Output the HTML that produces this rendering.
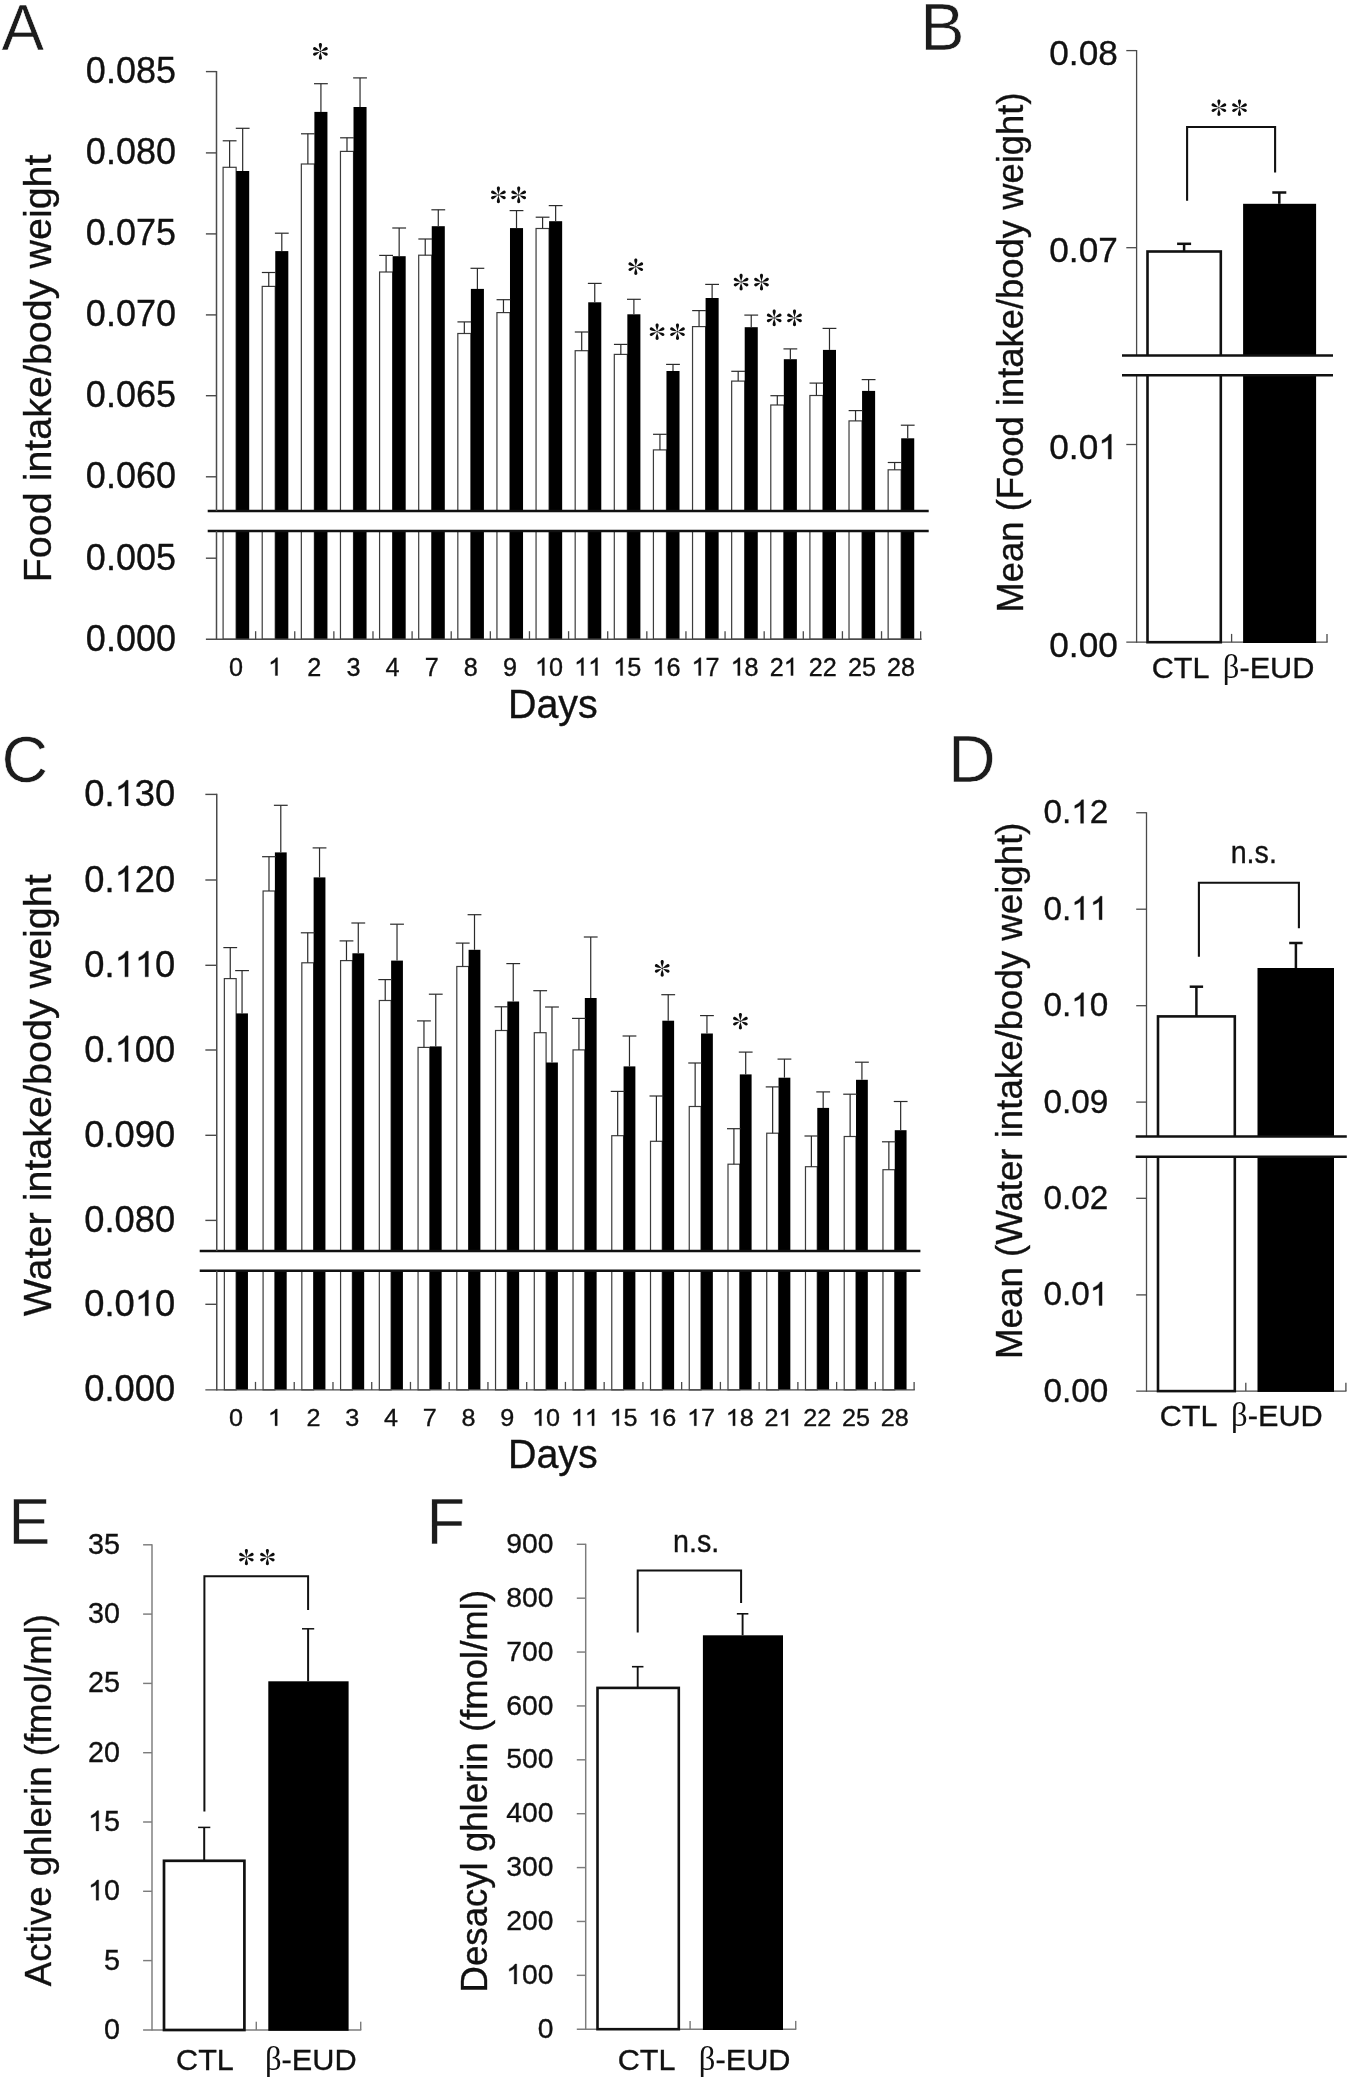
<!DOCTYPE html>
<html><head><meta charset="utf-8"><title>Figure</title>
<style>html,body{margin:0;padding:0;background:#fff}svg{display:block;will-change:transform;filter:blur(0.3px)}text{font-kerning:none}</style>
</head><body>
<svg width="1350" height="2082" viewBox="0 0 1350 2082">
<rect x="0.00" y="0.00" width="1350.00" height="2082.00" fill="#fff"/>
<rect x="223.10" y="167.30" width="13.05" height="471.90" fill="#fff" stroke="#3c3c3c" stroke-width="1.2"/>
<rect x="236.15" y="171.00" width="13.05" height="468.20" fill="#000"/>
<line x1="229.62" y1="140.80" x2="229.62" y2="167.30" stroke="#2b2b2b" stroke-width="1.2" stroke-linecap="butt"/>
<line x1="222.72" y1="140.80" x2="236.53" y2="140.80" stroke="#2b2b2b" stroke-width="1.2" stroke-linecap="butt"/>
<line x1="242.68" y1="128.30" x2="242.68" y2="171.00" stroke="#2b2b2b" stroke-width="1.2" stroke-linecap="butt"/>
<line x1="235.78" y1="128.30" x2="249.58" y2="128.30" stroke="#2b2b2b" stroke-width="1.2" stroke-linecap="butt"/>
<rect x="262.22" y="286.40" width="13.05" height="352.80" fill="#fff" stroke="#3c3c3c" stroke-width="1.2"/>
<rect x="275.27" y="251.10" width="13.05" height="388.10" fill="#000"/>
<line x1="268.75" y1="272.50" x2="268.75" y2="286.40" stroke="#2b2b2b" stroke-width="1.2" stroke-linecap="butt"/>
<line x1="261.85" y1="272.50" x2="275.64" y2="272.50" stroke="#2b2b2b" stroke-width="1.2" stroke-linecap="butt"/>
<line x1="281.80" y1="233.20" x2="281.80" y2="251.10" stroke="#2b2b2b" stroke-width="1.2" stroke-linecap="butt"/>
<line x1="274.90" y1="233.20" x2="288.69" y2="233.20" stroke="#2b2b2b" stroke-width="1.2" stroke-linecap="butt"/>
<rect x="301.34" y="164.00" width="13.05" height="475.20" fill="#fff" stroke="#3c3c3c" stroke-width="1.2"/>
<rect x="314.39" y="111.90" width="13.05" height="527.30" fill="#000"/>
<line x1="307.87" y1="133.80" x2="307.87" y2="164.00" stroke="#2b2b2b" stroke-width="1.2" stroke-linecap="butt"/>
<line x1="300.97" y1="133.80" x2="314.76" y2="133.80" stroke="#2b2b2b" stroke-width="1.2" stroke-linecap="butt"/>
<line x1="320.92" y1="83.70" x2="320.92" y2="111.90" stroke="#2b2b2b" stroke-width="1.2" stroke-linecap="butt"/>
<line x1="314.02" y1="83.70" x2="327.81" y2="83.70" stroke="#2b2b2b" stroke-width="1.2" stroke-linecap="butt"/>
<rect x="340.46" y="151.40" width="13.05" height="487.80" fill="#fff" stroke="#3c3c3c" stroke-width="1.2"/>
<rect x="353.51" y="107.00" width="13.05" height="532.20" fill="#000"/>
<line x1="346.99" y1="137.80" x2="346.99" y2="151.40" stroke="#2b2b2b" stroke-width="1.2" stroke-linecap="butt"/>
<line x1="340.09" y1="137.80" x2="353.88" y2="137.80" stroke="#2b2b2b" stroke-width="1.2" stroke-linecap="butt"/>
<line x1="360.04" y1="77.90" x2="360.04" y2="107.00" stroke="#2b2b2b" stroke-width="1.2" stroke-linecap="butt"/>
<line x1="353.14" y1="77.90" x2="366.94" y2="77.90" stroke="#2b2b2b" stroke-width="1.2" stroke-linecap="butt"/>
<rect x="379.58" y="272.00" width="13.05" height="367.20" fill="#fff" stroke="#3c3c3c" stroke-width="1.2"/>
<rect x="392.63" y="256.20" width="13.05" height="383.00" fill="#000"/>
<line x1="386.11" y1="255.40" x2="386.11" y2="272.00" stroke="#2b2b2b" stroke-width="1.2" stroke-linecap="butt"/>
<line x1="379.21" y1="255.40" x2="393.00" y2="255.40" stroke="#2b2b2b" stroke-width="1.2" stroke-linecap="butt"/>
<line x1="399.16" y1="228.00" x2="399.16" y2="256.20" stroke="#2b2b2b" stroke-width="1.2" stroke-linecap="butt"/>
<line x1="392.26" y1="228.00" x2="406.06" y2="228.00" stroke="#2b2b2b" stroke-width="1.2" stroke-linecap="butt"/>
<rect x="418.70" y="255.20" width="13.05" height="384.00" fill="#fff" stroke="#3c3c3c" stroke-width="1.2"/>
<rect x="431.75" y="226.20" width="13.05" height="413.00" fill="#000"/>
<line x1="425.23" y1="239.00" x2="425.23" y2="255.20" stroke="#2b2b2b" stroke-width="1.2" stroke-linecap="butt"/>
<line x1="418.33" y1="239.00" x2="432.12" y2="239.00" stroke="#2b2b2b" stroke-width="1.2" stroke-linecap="butt"/>
<line x1="438.28" y1="209.80" x2="438.28" y2="226.20" stroke="#2b2b2b" stroke-width="1.2" stroke-linecap="butt"/>
<line x1="431.38" y1="209.80" x2="445.18" y2="209.80" stroke="#2b2b2b" stroke-width="1.2" stroke-linecap="butt"/>
<rect x="457.82" y="333.50" width="13.05" height="305.70" fill="#fff" stroke="#3c3c3c" stroke-width="1.2"/>
<rect x="470.87" y="288.90" width="13.05" height="350.30" fill="#000"/>
<line x1="464.34" y1="321.90" x2="464.34" y2="333.50" stroke="#2b2b2b" stroke-width="1.2" stroke-linecap="butt"/>
<line x1="457.44" y1="321.90" x2="471.24" y2="321.90" stroke="#2b2b2b" stroke-width="1.2" stroke-linecap="butt"/>
<line x1="477.39" y1="268.30" x2="477.39" y2="288.90" stroke="#2b2b2b" stroke-width="1.2" stroke-linecap="butt"/>
<line x1="470.50" y1="268.30" x2="484.29" y2="268.30" stroke="#2b2b2b" stroke-width="1.2" stroke-linecap="butt"/>
<rect x="496.94" y="312.60" width="13.05" height="326.60" fill="#fff" stroke="#3c3c3c" stroke-width="1.2"/>
<rect x="509.99" y="228.10" width="13.05" height="411.10" fill="#000"/>
<line x1="503.46" y1="299.70" x2="503.46" y2="312.60" stroke="#2b2b2b" stroke-width="1.2" stroke-linecap="butt"/>
<line x1="496.56" y1="299.70" x2="510.36" y2="299.70" stroke="#2b2b2b" stroke-width="1.2" stroke-linecap="butt"/>
<line x1="516.51" y1="210.60" x2="516.51" y2="228.10" stroke="#2b2b2b" stroke-width="1.2" stroke-linecap="butt"/>
<line x1="509.62" y1="210.60" x2="523.41" y2="210.60" stroke="#2b2b2b" stroke-width="1.2" stroke-linecap="butt"/>
<rect x="536.06" y="228.50" width="13.05" height="410.70" fill="#fff" stroke="#3c3c3c" stroke-width="1.2"/>
<rect x="549.11" y="221.20" width="13.05" height="418.00" fill="#000"/>
<line x1="542.59" y1="217.20" x2="542.59" y2="228.50" stroke="#2b2b2b" stroke-width="1.2" stroke-linecap="butt"/>
<line x1="535.69" y1="217.20" x2="549.49" y2="217.20" stroke="#2b2b2b" stroke-width="1.2" stroke-linecap="butt"/>
<line x1="555.64" y1="205.60" x2="555.64" y2="221.20" stroke="#2b2b2b" stroke-width="1.2" stroke-linecap="butt"/>
<line x1="548.74" y1="205.60" x2="562.54" y2="205.60" stroke="#2b2b2b" stroke-width="1.2" stroke-linecap="butt"/>
<rect x="575.18" y="350.70" width="13.05" height="288.50" fill="#fff" stroke="#3c3c3c" stroke-width="1.2"/>
<rect x="588.23" y="302.30" width="13.05" height="336.90" fill="#000"/>
<line x1="581.70" y1="332.00" x2="581.70" y2="350.70" stroke="#2b2b2b" stroke-width="1.2" stroke-linecap="butt"/>
<line x1="574.80" y1="332.00" x2="588.60" y2="332.00" stroke="#2b2b2b" stroke-width="1.2" stroke-linecap="butt"/>
<line x1="594.75" y1="283.40" x2="594.75" y2="302.30" stroke="#2b2b2b" stroke-width="1.2" stroke-linecap="butt"/>
<line x1="587.86" y1="283.40" x2="601.65" y2="283.40" stroke="#2b2b2b" stroke-width="1.2" stroke-linecap="butt"/>
<rect x="614.30" y="354.40" width="13.05" height="284.80" fill="#fff" stroke="#3c3c3c" stroke-width="1.2"/>
<rect x="627.35" y="314.30" width="13.05" height="324.90" fill="#000"/>
<line x1="620.83" y1="344.40" x2="620.83" y2="354.40" stroke="#2b2b2b" stroke-width="1.2" stroke-linecap="butt"/>
<line x1="613.93" y1="344.40" x2="627.73" y2="344.40" stroke="#2b2b2b" stroke-width="1.2" stroke-linecap="butt"/>
<line x1="633.88" y1="299.30" x2="633.88" y2="314.30" stroke="#2b2b2b" stroke-width="1.2" stroke-linecap="butt"/>
<line x1="626.98" y1="299.30" x2="640.78" y2="299.30" stroke="#2b2b2b" stroke-width="1.2" stroke-linecap="butt"/>
<rect x="653.42" y="449.90" width="13.05" height="189.30" fill="#fff" stroke="#3c3c3c" stroke-width="1.2"/>
<rect x="666.47" y="371.00" width="13.05" height="268.20" fill="#000"/>
<line x1="659.94" y1="434.30" x2="659.94" y2="449.90" stroke="#2b2b2b" stroke-width="1.2" stroke-linecap="butt"/>
<line x1="653.04" y1="434.30" x2="666.84" y2="434.30" stroke="#2b2b2b" stroke-width="1.2" stroke-linecap="butt"/>
<line x1="673.00" y1="364.40" x2="673.00" y2="371.00" stroke="#2b2b2b" stroke-width="1.2" stroke-linecap="butt"/>
<line x1="666.10" y1="364.40" x2="679.89" y2="364.40" stroke="#2b2b2b" stroke-width="1.2" stroke-linecap="butt"/>
<rect x="692.54" y="326.60" width="13.05" height="312.60" fill="#fff" stroke="#3c3c3c" stroke-width="1.2"/>
<rect x="705.59" y="298.00" width="13.05" height="341.20" fill="#000"/>
<line x1="699.06" y1="310.60" x2="699.06" y2="326.60" stroke="#2b2b2b" stroke-width="1.2" stroke-linecap="butt"/>
<line x1="692.16" y1="310.60" x2="705.96" y2="310.60" stroke="#2b2b2b" stroke-width="1.2" stroke-linecap="butt"/>
<line x1="712.12" y1="284.40" x2="712.12" y2="298.00" stroke="#2b2b2b" stroke-width="1.2" stroke-linecap="butt"/>
<line x1="705.22" y1="284.40" x2="719.01" y2="284.40" stroke="#2b2b2b" stroke-width="1.2" stroke-linecap="butt"/>
<rect x="731.66" y="381.10" width="13.05" height="258.10" fill="#fff" stroke="#3c3c3c" stroke-width="1.2"/>
<rect x="744.71" y="327.20" width="13.05" height="312.00" fill="#000"/>
<line x1="738.18" y1="371.30" x2="738.18" y2="381.10" stroke="#2b2b2b" stroke-width="1.2" stroke-linecap="butt"/>
<line x1="731.28" y1="371.30" x2="745.08" y2="371.30" stroke="#2b2b2b" stroke-width="1.2" stroke-linecap="butt"/>
<line x1="751.24" y1="315.10" x2="751.24" y2="327.20" stroke="#2b2b2b" stroke-width="1.2" stroke-linecap="butt"/>
<line x1="744.34" y1="315.10" x2="758.13" y2="315.10" stroke="#2b2b2b" stroke-width="1.2" stroke-linecap="butt"/>
<rect x="770.78" y="405.00" width="13.05" height="234.20" fill="#fff" stroke="#3c3c3c" stroke-width="1.2"/>
<rect x="783.83" y="359.20" width="13.05" height="280.00" fill="#000"/>
<line x1="777.30" y1="395.70" x2="777.30" y2="405.00" stroke="#2b2b2b" stroke-width="1.2" stroke-linecap="butt"/>
<line x1="770.40" y1="395.70" x2="784.20" y2="395.70" stroke="#2b2b2b" stroke-width="1.2" stroke-linecap="butt"/>
<line x1="790.36" y1="348.90" x2="790.36" y2="359.20" stroke="#2b2b2b" stroke-width="1.2" stroke-linecap="butt"/>
<line x1="783.46" y1="348.90" x2="797.25" y2="348.90" stroke="#2b2b2b" stroke-width="1.2" stroke-linecap="butt"/>
<rect x="809.90" y="395.50" width="13.05" height="243.70" fill="#fff" stroke="#3c3c3c" stroke-width="1.2"/>
<rect x="822.95" y="349.90" width="13.05" height="289.30" fill="#000"/>
<line x1="816.42" y1="383.10" x2="816.42" y2="395.50" stroke="#2b2b2b" stroke-width="1.2" stroke-linecap="butt"/>
<line x1="809.52" y1="383.10" x2="823.32" y2="383.10" stroke="#2b2b2b" stroke-width="1.2" stroke-linecap="butt"/>
<line x1="829.48" y1="328.40" x2="829.48" y2="349.90" stroke="#2b2b2b" stroke-width="1.2" stroke-linecap="butt"/>
<line x1="822.58" y1="328.40" x2="836.38" y2="328.40" stroke="#2b2b2b" stroke-width="1.2" stroke-linecap="butt"/>
<rect x="849.02" y="420.90" width="13.05" height="218.30" fill="#fff" stroke="#3c3c3c" stroke-width="1.2"/>
<rect x="862.07" y="390.90" width="13.05" height="248.30" fill="#000"/>
<line x1="855.54" y1="410.60" x2="855.54" y2="420.90" stroke="#2b2b2b" stroke-width="1.2" stroke-linecap="butt"/>
<line x1="848.64" y1="410.60" x2="862.44" y2="410.60" stroke="#2b2b2b" stroke-width="1.2" stroke-linecap="butt"/>
<line x1="868.60" y1="379.60" x2="868.60" y2="390.90" stroke="#2b2b2b" stroke-width="1.2" stroke-linecap="butt"/>
<line x1="861.70" y1="379.60" x2="875.50" y2="379.60" stroke="#2b2b2b" stroke-width="1.2" stroke-linecap="butt"/>
<rect x="888.14" y="469.80" width="13.05" height="169.40" fill="#fff" stroke="#3c3c3c" stroke-width="1.2"/>
<rect x="901.19" y="438.30" width="13.05" height="200.90" fill="#000"/>
<line x1="894.66" y1="462.50" x2="894.66" y2="469.80" stroke="#2b2b2b" stroke-width="1.2" stroke-linecap="butt"/>
<line x1="887.76" y1="462.50" x2="901.56" y2="462.50" stroke="#2b2b2b" stroke-width="1.2" stroke-linecap="butt"/>
<line x1="907.72" y1="425.20" x2="907.72" y2="438.30" stroke="#2b2b2b" stroke-width="1.2" stroke-linecap="butt"/>
<line x1="900.82" y1="425.20" x2="914.62" y2="425.20" stroke="#2b2b2b" stroke-width="1.2" stroke-linecap="butt"/>
<rect x="207.70" y="511.00" width="721.00" height="20.00" fill="#fff"/>
<line x1="207.70" y1="511.00" x2="928.70" y2="511.00" stroke="#111" stroke-width="2.5" stroke-linecap="butt"/>
<line x1="207.70" y1="531.00" x2="928.70" y2="531.00" stroke="#111" stroke-width="2.5" stroke-linecap="butt"/>
<line x1="216.50" y1="70.90" x2="216.50" y2="511.00" stroke="#4a4a4a" stroke-width="1.5" stroke-linecap="butt"/>
<line x1="216.50" y1="531.00" x2="216.50" y2="639.90" stroke="#4a4a4a" stroke-width="1.5" stroke-linecap="butt"/>
<line x1="205.90" y1="71.60" x2="216.50" y2="71.60" stroke="#4a4a4a" stroke-width="1.4" stroke-linecap="butt"/>
<line x1="205.90" y1="152.90" x2="216.50" y2="152.90" stroke="#4a4a4a" stroke-width="1.4" stroke-linecap="butt"/>
<line x1="205.90" y1="233.90" x2="216.50" y2="233.90" stroke="#4a4a4a" stroke-width="1.4" stroke-linecap="butt"/>
<line x1="205.90" y1="314.90" x2="216.50" y2="314.90" stroke="#4a4a4a" stroke-width="1.4" stroke-linecap="butt"/>
<line x1="205.90" y1="395.70" x2="216.50" y2="395.70" stroke="#4a4a4a" stroke-width="1.4" stroke-linecap="butt"/>
<line x1="205.90" y1="476.80" x2="216.50" y2="476.80" stroke="#4a4a4a" stroke-width="1.4" stroke-linecap="butt"/>
<line x1="205.90" y1="558.20" x2="216.50" y2="558.20" stroke="#4a4a4a" stroke-width="1.4" stroke-linecap="butt"/>
<line x1="205.90" y1="639.20" x2="921.60" y2="639.20" stroke="#4a4a4a" stroke-width="1.4" stroke-linecap="butt"/>
<line x1="255.62" y1="631.20" x2="255.62" y2="639.20" stroke="#4a4a4a" stroke-width="1.3" stroke-linecap="butt"/>
<line x1="294.74" y1="631.20" x2="294.74" y2="639.20" stroke="#4a4a4a" stroke-width="1.3" stroke-linecap="butt"/>
<line x1="333.86" y1="631.20" x2="333.86" y2="639.20" stroke="#4a4a4a" stroke-width="1.3" stroke-linecap="butt"/>
<line x1="372.98" y1="631.20" x2="372.98" y2="639.20" stroke="#4a4a4a" stroke-width="1.3" stroke-linecap="butt"/>
<line x1="412.10" y1="631.20" x2="412.10" y2="639.20" stroke="#4a4a4a" stroke-width="1.3" stroke-linecap="butt"/>
<line x1="451.22" y1="631.20" x2="451.22" y2="639.20" stroke="#4a4a4a" stroke-width="1.3" stroke-linecap="butt"/>
<line x1="490.34" y1="631.20" x2="490.34" y2="639.20" stroke="#4a4a4a" stroke-width="1.3" stroke-linecap="butt"/>
<line x1="529.46" y1="631.20" x2="529.46" y2="639.20" stroke="#4a4a4a" stroke-width="1.3" stroke-linecap="butt"/>
<line x1="568.58" y1="631.20" x2="568.58" y2="639.20" stroke="#4a4a4a" stroke-width="1.3" stroke-linecap="butt"/>
<line x1="607.70" y1="631.20" x2="607.70" y2="639.20" stroke="#4a4a4a" stroke-width="1.3" stroke-linecap="butt"/>
<line x1="646.82" y1="631.20" x2="646.82" y2="639.20" stroke="#4a4a4a" stroke-width="1.3" stroke-linecap="butt"/>
<line x1="685.94" y1="631.20" x2="685.94" y2="639.20" stroke="#4a4a4a" stroke-width="1.3" stroke-linecap="butt"/>
<line x1="725.06" y1="631.20" x2="725.06" y2="639.20" stroke="#4a4a4a" stroke-width="1.3" stroke-linecap="butt"/>
<line x1="764.18" y1="631.20" x2="764.18" y2="639.20" stroke="#4a4a4a" stroke-width="1.3" stroke-linecap="butt"/>
<line x1="803.30" y1="631.20" x2="803.30" y2="639.20" stroke="#4a4a4a" stroke-width="1.3" stroke-linecap="butt"/>
<line x1="842.42" y1="631.20" x2="842.42" y2="639.20" stroke="#4a4a4a" stroke-width="1.3" stroke-linecap="butt"/>
<line x1="881.54" y1="631.20" x2="881.54" y2="639.20" stroke="#4a4a4a" stroke-width="1.3" stroke-linecap="butt"/>
<line x1="920.66" y1="631.20" x2="920.66" y2="639.20" stroke="#4a4a4a" stroke-width="1.3" stroke-linecap="butt"/>
<text transform="translate(85.86,83.10) scale(1.0,1.0)" text-anchor="start" font-size="36.00" font-family="Liberation Sans, sans-serif" fill="#111" stroke="#111" stroke-width="0.35">0.085</text>
<text transform="translate(85.86,164.40) scale(1.0,1.0)" text-anchor="start" font-size="36.00" font-family="Liberation Sans, sans-serif" fill="#111" stroke="#111" stroke-width="0.35">0.080</text>
<text transform="translate(85.86,245.40) scale(1.0,1.0)" text-anchor="start" font-size="36.00" font-family="Liberation Sans, sans-serif" fill="#111" stroke="#111" stroke-width="0.35">0.075</text>
<text transform="translate(85.86,326.40) scale(1.0,1.0)" text-anchor="start" font-size="36.00" font-family="Liberation Sans, sans-serif" fill="#111" stroke="#111" stroke-width="0.35">0.070</text>
<text transform="translate(85.86,407.20) scale(1.0,1.0)" text-anchor="start" font-size="36.00" font-family="Liberation Sans, sans-serif" fill="#111" stroke="#111" stroke-width="0.35">0.065</text>
<text transform="translate(85.86,488.30) scale(1.0,1.0)" text-anchor="start" font-size="36.00" font-family="Liberation Sans, sans-serif" fill="#111" stroke="#111" stroke-width="0.35">0.060</text>
<text transform="translate(85.86,569.70) scale(1.0,1.0)" text-anchor="start" font-size="36.00" font-family="Liberation Sans, sans-serif" fill="#111" stroke="#111" stroke-width="0.35">0.005</text>
<text transform="translate(85.86,650.70) scale(1.0,1.0)" text-anchor="start" font-size="36.00" font-family="Liberation Sans, sans-serif" fill="#111" stroke="#111" stroke-width="0.35">0.000</text>
<text transform="translate(229.05,675.50) scale(1.0,1.0)" text-anchor="start" font-size="25.20" font-family="Liberation Sans, sans-serif" fill="#111" stroke="#111" stroke-width="0.35">0</text>
<path transform="translate(268.17,675.50) scale(25.200,25.200)" d="M0.372,0 H0.284 V-0.548 Q0.215,-0.485 0.109,-0.447 V-0.532 Q0.262,-0.600 0.316,-0.705 H0.372 Z" fill="#111" stroke="#111" stroke-width="0.0139"/>
<text transform="translate(307.29,675.50) scale(1.0,1.0)" text-anchor="start" font-size="25.20" font-family="Liberation Sans, sans-serif" fill="#111" stroke="#111" stroke-width="0.35">2</text>
<text transform="translate(346.41,675.50) scale(1.0,1.0)" text-anchor="start" font-size="25.20" font-family="Liberation Sans, sans-serif" fill="#111" stroke="#111" stroke-width="0.35">3</text>
<text transform="translate(385.53,675.50) scale(1.0,1.0)" text-anchor="start" font-size="25.20" font-family="Liberation Sans, sans-serif" fill="#111" stroke="#111" stroke-width="0.35">4</text>
<text transform="translate(424.65,675.50) scale(1.0,1.0)" text-anchor="start" font-size="25.20" font-family="Liberation Sans, sans-serif" fill="#111" stroke="#111" stroke-width="0.35">7</text>
<text transform="translate(463.77,675.50) scale(1.0,1.0)" text-anchor="start" font-size="25.20" font-family="Liberation Sans, sans-serif" fill="#111" stroke="#111" stroke-width="0.35">8</text>
<text transform="translate(502.89,675.50) scale(1.0,1.0)" text-anchor="start" font-size="25.20" font-family="Liberation Sans, sans-serif" fill="#111" stroke="#111" stroke-width="0.35">9</text>
<path transform="translate(535.00,675.50) scale(25.200,25.200)" d="M0.372,0 H0.284 V-0.548 Q0.215,-0.485 0.109,-0.447 V-0.532 Q0.262,-0.600 0.316,-0.705 H0.372 Z" fill="#111" stroke="#111" stroke-width="0.0139"/>
<text transform="translate(549.02,675.50) scale(1.0,1.0)" text-anchor="start" font-size="25.20" font-family="Liberation Sans, sans-serif" fill="#111" stroke="#111" stroke-width="0.35">0</text>
<path transform="translate(574.12,675.50) scale(25.200,25.200)" d="M0.372,0 H0.284 V-0.548 Q0.215,-0.485 0.109,-0.447 V-0.532 Q0.262,-0.600 0.316,-0.705 H0.372 Z" fill="#111" stroke="#111" stroke-width="0.0139"/>
<path transform="translate(588.14,675.50) scale(25.200,25.200)" d="M0.372,0 H0.284 V-0.548 Q0.215,-0.485 0.109,-0.447 V-0.532 Q0.262,-0.600 0.316,-0.705 H0.372 Z" fill="#111" stroke="#111" stroke-width="0.0139"/>
<path transform="translate(613.24,675.50) scale(25.200,25.200)" d="M0.372,0 H0.284 V-0.548 Q0.215,-0.485 0.109,-0.447 V-0.532 Q0.262,-0.600 0.316,-0.705 H0.372 Z" fill="#111" stroke="#111" stroke-width="0.0139"/>
<text transform="translate(627.26,675.50) scale(1.0,1.0)" text-anchor="start" font-size="25.20" font-family="Liberation Sans, sans-serif" fill="#111" stroke="#111" stroke-width="0.35">5</text>
<path transform="translate(652.36,675.50) scale(25.200,25.200)" d="M0.372,0 H0.284 V-0.548 Q0.215,-0.485 0.109,-0.447 V-0.532 Q0.262,-0.600 0.316,-0.705 H0.372 Z" fill="#111" stroke="#111" stroke-width="0.0139"/>
<text transform="translate(666.38,675.50) scale(1.0,1.0)" text-anchor="start" font-size="25.20" font-family="Liberation Sans, sans-serif" fill="#111" stroke="#111" stroke-width="0.35">6</text>
<path transform="translate(691.48,675.50) scale(25.200,25.200)" d="M0.372,0 H0.284 V-0.548 Q0.215,-0.485 0.109,-0.447 V-0.532 Q0.262,-0.600 0.316,-0.705 H0.372 Z" fill="#111" stroke="#111" stroke-width="0.0139"/>
<text transform="translate(705.50,675.50) scale(1.0,1.0)" text-anchor="start" font-size="25.20" font-family="Liberation Sans, sans-serif" fill="#111" stroke="#111" stroke-width="0.35">7</text>
<path transform="translate(730.60,675.50) scale(25.200,25.200)" d="M0.372,0 H0.284 V-0.548 Q0.215,-0.485 0.109,-0.447 V-0.532 Q0.262,-0.600 0.316,-0.705 H0.372 Z" fill="#111" stroke="#111" stroke-width="0.0139"/>
<text transform="translate(744.62,675.50) scale(1.0,1.0)" text-anchor="start" font-size="25.20" font-family="Liberation Sans, sans-serif" fill="#111" stroke="#111" stroke-width="0.35">8</text>
<text transform="translate(769.72,675.50) scale(1.0,1.0)" text-anchor="start" font-size="25.20" font-family="Liberation Sans, sans-serif" fill="#111" stroke="#111" stroke-width="0.35">2</text>
<path transform="translate(783.74,675.50) scale(25.200,25.200)" d="M0.372,0 H0.284 V-0.548 Q0.215,-0.485 0.109,-0.447 V-0.532 Q0.262,-0.600 0.316,-0.705 H0.372 Z" fill="#111" stroke="#111" stroke-width="0.0139"/>
<text transform="translate(808.84,675.50) scale(1.0,1.0)" text-anchor="start" font-size="25.20" font-family="Liberation Sans, sans-serif" fill="#111" stroke="#111" stroke-width="0.35">22</text>
<text transform="translate(847.96,675.50) scale(1.0,1.0)" text-anchor="start" font-size="25.20" font-family="Liberation Sans, sans-serif" fill="#111" stroke="#111" stroke-width="0.35">25</text>
<text transform="translate(887.08,675.50) scale(1.0,1.0)" text-anchor="start" font-size="25.20" font-family="Liberation Sans, sans-serif" fill="#111" stroke="#111" stroke-width="0.35">28</text>
<text transform="translate(507.95,717.60) scale(1.0,1.03)" text-anchor="start" font-size="39.43" font-family="Liberation Sans, sans-serif" fill="#111" stroke="#111" stroke-width="0.35">Days</text>
<text transform="translate(1.54,50.40) scale(1,1.01)" font-size="63.85" font-family="Liberation Sans, sans-serif" fill="#1c1c1c" stroke="#fff" stroke-width="0.6">A</text>
<text style="font-kerning:normal" transform="translate(50.90,582.26) rotate(-90) scale(1,0.99)" text-anchor="start" font-size="39.48" font-family="Liberation Sans, sans-serif" fill="#111" stroke="#111" stroke-width="0.35">Food intake/body weight</text>
<g transform="translate(320.40,51.40) scale(0.976)" fill="#0d0d0d"><path transform="rotate(0) scale(1)" d="M0,-0.2 C-0.3,-2.4 -1.6,-5.0 -1.6,-6.75 C-1.6,-7.8 -0.9,-8.5 0,-8.5 C0.9,-8.5 1.6,-7.8 1.6,-6.75 C1.6,-5.0 0.3,-2.4 0,-0.2 Z"/><path transform="rotate(64) scale(0.965)" d="M0,-0.2 C-0.3,-2.4 -1.6,-5.0 -1.6,-6.75 C-1.6,-7.8 -0.9,-8.5 0,-8.5 C0.9,-8.5 1.6,-7.8 1.6,-6.75 C1.6,-5.0 0.3,-2.4 0,-0.2 Z"/><path transform="rotate(116) scale(0.965)" d="M0,-0.2 C-0.3,-2.4 -1.6,-5.0 -1.6,-6.75 C-1.6,-7.8 -0.9,-8.5 0,-8.5 C0.9,-8.5 1.6,-7.8 1.6,-6.75 C1.6,-5.0 0.3,-2.4 0,-0.2 Z"/><path transform="rotate(180) scale(1)" d="M0,-0.2 C-0.3,-2.4 -1.6,-5.0 -1.6,-6.75 C-1.6,-7.8 -0.9,-8.5 0,-8.5 C0.9,-8.5 1.6,-7.8 1.6,-6.75 C1.6,-5.0 0.3,-2.4 0,-0.2 Z"/><path transform="rotate(244) scale(0.965)" d="M0,-0.2 C-0.3,-2.4 -1.6,-5.0 -1.6,-6.75 C-1.6,-7.8 -0.9,-8.5 0,-8.5 C0.9,-8.5 1.6,-7.8 1.6,-6.75 C1.6,-5.0 0.3,-2.4 0,-0.2 Z"/><path transform="rotate(296) scale(0.965)" d="M0,-0.2 C-0.3,-2.4 -1.6,-5.0 -1.6,-6.75 C-1.6,-7.8 -0.9,-8.5 0,-8.5 C0.9,-8.5 1.6,-7.8 1.6,-6.75 C1.6,-5.0 0.3,-2.4 0,-0.2 Z"/><circle r="0.75"/></g>
<g transform="translate(498.40,194.90) scale(0.976)" fill="#0d0d0d"><path transform="rotate(0) scale(1)" d="M0,-0.2 C-0.3,-2.4 -1.6,-5.0 -1.6,-6.75 C-1.6,-7.8 -0.9,-8.5 0,-8.5 C0.9,-8.5 1.6,-7.8 1.6,-6.75 C1.6,-5.0 0.3,-2.4 0,-0.2 Z"/><path transform="rotate(64) scale(0.965)" d="M0,-0.2 C-0.3,-2.4 -1.6,-5.0 -1.6,-6.75 C-1.6,-7.8 -0.9,-8.5 0,-8.5 C0.9,-8.5 1.6,-7.8 1.6,-6.75 C1.6,-5.0 0.3,-2.4 0,-0.2 Z"/><path transform="rotate(116) scale(0.965)" d="M0,-0.2 C-0.3,-2.4 -1.6,-5.0 -1.6,-6.75 C-1.6,-7.8 -0.9,-8.5 0,-8.5 C0.9,-8.5 1.6,-7.8 1.6,-6.75 C1.6,-5.0 0.3,-2.4 0,-0.2 Z"/><path transform="rotate(180) scale(1)" d="M0,-0.2 C-0.3,-2.4 -1.6,-5.0 -1.6,-6.75 C-1.6,-7.8 -0.9,-8.5 0,-8.5 C0.9,-8.5 1.6,-7.8 1.6,-6.75 C1.6,-5.0 0.3,-2.4 0,-0.2 Z"/><path transform="rotate(244) scale(0.965)" d="M0,-0.2 C-0.3,-2.4 -1.6,-5.0 -1.6,-6.75 C-1.6,-7.8 -0.9,-8.5 0,-8.5 C0.9,-8.5 1.6,-7.8 1.6,-6.75 C1.6,-5.0 0.3,-2.4 0,-0.2 Z"/><path transform="rotate(296) scale(0.965)" d="M0,-0.2 C-0.3,-2.4 -1.6,-5.0 -1.6,-6.75 C-1.6,-7.8 -0.9,-8.5 0,-8.5 C0.9,-8.5 1.6,-7.8 1.6,-6.75 C1.6,-5.0 0.3,-2.4 0,-0.2 Z"/><circle r="0.75"/></g>
<g transform="translate(518.70,194.90) scale(0.976)" fill="#0d0d0d"><path transform="rotate(0) scale(1)" d="M0,-0.2 C-0.3,-2.4 -1.6,-5.0 -1.6,-6.75 C-1.6,-7.8 -0.9,-8.5 0,-8.5 C0.9,-8.5 1.6,-7.8 1.6,-6.75 C1.6,-5.0 0.3,-2.4 0,-0.2 Z"/><path transform="rotate(64) scale(0.965)" d="M0,-0.2 C-0.3,-2.4 -1.6,-5.0 -1.6,-6.75 C-1.6,-7.8 -0.9,-8.5 0,-8.5 C0.9,-8.5 1.6,-7.8 1.6,-6.75 C1.6,-5.0 0.3,-2.4 0,-0.2 Z"/><path transform="rotate(116) scale(0.965)" d="M0,-0.2 C-0.3,-2.4 -1.6,-5.0 -1.6,-6.75 C-1.6,-7.8 -0.9,-8.5 0,-8.5 C0.9,-8.5 1.6,-7.8 1.6,-6.75 C1.6,-5.0 0.3,-2.4 0,-0.2 Z"/><path transform="rotate(180) scale(1)" d="M0,-0.2 C-0.3,-2.4 -1.6,-5.0 -1.6,-6.75 C-1.6,-7.8 -0.9,-8.5 0,-8.5 C0.9,-8.5 1.6,-7.8 1.6,-6.75 C1.6,-5.0 0.3,-2.4 0,-0.2 Z"/><path transform="rotate(244) scale(0.965)" d="M0,-0.2 C-0.3,-2.4 -1.6,-5.0 -1.6,-6.75 C-1.6,-7.8 -0.9,-8.5 0,-8.5 C0.9,-8.5 1.6,-7.8 1.6,-6.75 C1.6,-5.0 0.3,-2.4 0,-0.2 Z"/><path transform="rotate(296) scale(0.965)" d="M0,-0.2 C-0.3,-2.4 -1.6,-5.0 -1.6,-6.75 C-1.6,-7.8 -0.9,-8.5 0,-8.5 C0.9,-8.5 1.6,-7.8 1.6,-6.75 C1.6,-5.0 0.3,-2.4 0,-0.2 Z"/><circle r="0.75"/></g>
<g transform="translate(635.80,266.70) scale(0.976)" fill="#0d0d0d"><path transform="rotate(0) scale(1)" d="M0,-0.2 C-0.3,-2.4 -1.6,-5.0 -1.6,-6.75 C-1.6,-7.8 -0.9,-8.5 0,-8.5 C0.9,-8.5 1.6,-7.8 1.6,-6.75 C1.6,-5.0 0.3,-2.4 0,-0.2 Z"/><path transform="rotate(64) scale(0.965)" d="M0,-0.2 C-0.3,-2.4 -1.6,-5.0 -1.6,-6.75 C-1.6,-7.8 -0.9,-8.5 0,-8.5 C0.9,-8.5 1.6,-7.8 1.6,-6.75 C1.6,-5.0 0.3,-2.4 0,-0.2 Z"/><path transform="rotate(116) scale(0.965)" d="M0,-0.2 C-0.3,-2.4 -1.6,-5.0 -1.6,-6.75 C-1.6,-7.8 -0.9,-8.5 0,-8.5 C0.9,-8.5 1.6,-7.8 1.6,-6.75 C1.6,-5.0 0.3,-2.4 0,-0.2 Z"/><path transform="rotate(180) scale(1)" d="M0,-0.2 C-0.3,-2.4 -1.6,-5.0 -1.6,-6.75 C-1.6,-7.8 -0.9,-8.5 0,-8.5 C0.9,-8.5 1.6,-7.8 1.6,-6.75 C1.6,-5.0 0.3,-2.4 0,-0.2 Z"/><path transform="rotate(244) scale(0.965)" d="M0,-0.2 C-0.3,-2.4 -1.6,-5.0 -1.6,-6.75 C-1.6,-7.8 -0.9,-8.5 0,-8.5 C0.9,-8.5 1.6,-7.8 1.6,-6.75 C1.6,-5.0 0.3,-2.4 0,-0.2 Z"/><path transform="rotate(296) scale(0.965)" d="M0,-0.2 C-0.3,-2.4 -1.6,-5.0 -1.6,-6.75 C-1.6,-7.8 -0.9,-8.5 0,-8.5 C0.9,-8.5 1.6,-7.8 1.6,-6.75 C1.6,-5.0 0.3,-2.4 0,-0.2 Z"/><circle r="0.75"/></g>
<g transform="translate(657.10,331.70) scale(0.976)" fill="#0d0d0d"><path transform="rotate(0) scale(1)" d="M0,-0.2 C-0.3,-2.4 -1.6,-5.0 -1.6,-6.75 C-1.6,-7.8 -0.9,-8.5 0,-8.5 C0.9,-8.5 1.6,-7.8 1.6,-6.75 C1.6,-5.0 0.3,-2.4 0,-0.2 Z"/><path transform="rotate(64) scale(0.965)" d="M0,-0.2 C-0.3,-2.4 -1.6,-5.0 -1.6,-6.75 C-1.6,-7.8 -0.9,-8.5 0,-8.5 C0.9,-8.5 1.6,-7.8 1.6,-6.75 C1.6,-5.0 0.3,-2.4 0,-0.2 Z"/><path transform="rotate(116) scale(0.965)" d="M0,-0.2 C-0.3,-2.4 -1.6,-5.0 -1.6,-6.75 C-1.6,-7.8 -0.9,-8.5 0,-8.5 C0.9,-8.5 1.6,-7.8 1.6,-6.75 C1.6,-5.0 0.3,-2.4 0,-0.2 Z"/><path transform="rotate(180) scale(1)" d="M0,-0.2 C-0.3,-2.4 -1.6,-5.0 -1.6,-6.75 C-1.6,-7.8 -0.9,-8.5 0,-8.5 C0.9,-8.5 1.6,-7.8 1.6,-6.75 C1.6,-5.0 0.3,-2.4 0,-0.2 Z"/><path transform="rotate(244) scale(0.965)" d="M0,-0.2 C-0.3,-2.4 -1.6,-5.0 -1.6,-6.75 C-1.6,-7.8 -0.9,-8.5 0,-8.5 C0.9,-8.5 1.6,-7.8 1.6,-6.75 C1.6,-5.0 0.3,-2.4 0,-0.2 Z"/><path transform="rotate(296) scale(0.965)" d="M0,-0.2 C-0.3,-2.4 -1.6,-5.0 -1.6,-6.75 C-1.6,-7.8 -0.9,-8.5 0,-8.5 C0.9,-8.5 1.6,-7.8 1.6,-6.75 C1.6,-5.0 0.3,-2.4 0,-0.2 Z"/><circle r="0.75"/></g>
<g transform="translate(677.50,331.70) scale(0.976)" fill="#0d0d0d"><path transform="rotate(0) scale(1)" d="M0,-0.2 C-0.3,-2.4 -1.6,-5.0 -1.6,-6.75 C-1.6,-7.8 -0.9,-8.5 0,-8.5 C0.9,-8.5 1.6,-7.8 1.6,-6.75 C1.6,-5.0 0.3,-2.4 0,-0.2 Z"/><path transform="rotate(64) scale(0.965)" d="M0,-0.2 C-0.3,-2.4 -1.6,-5.0 -1.6,-6.75 C-1.6,-7.8 -0.9,-8.5 0,-8.5 C0.9,-8.5 1.6,-7.8 1.6,-6.75 C1.6,-5.0 0.3,-2.4 0,-0.2 Z"/><path transform="rotate(116) scale(0.965)" d="M0,-0.2 C-0.3,-2.4 -1.6,-5.0 -1.6,-6.75 C-1.6,-7.8 -0.9,-8.5 0,-8.5 C0.9,-8.5 1.6,-7.8 1.6,-6.75 C1.6,-5.0 0.3,-2.4 0,-0.2 Z"/><path transform="rotate(180) scale(1)" d="M0,-0.2 C-0.3,-2.4 -1.6,-5.0 -1.6,-6.75 C-1.6,-7.8 -0.9,-8.5 0,-8.5 C0.9,-8.5 1.6,-7.8 1.6,-6.75 C1.6,-5.0 0.3,-2.4 0,-0.2 Z"/><path transform="rotate(244) scale(0.965)" d="M0,-0.2 C-0.3,-2.4 -1.6,-5.0 -1.6,-6.75 C-1.6,-7.8 -0.9,-8.5 0,-8.5 C0.9,-8.5 1.6,-7.8 1.6,-6.75 C1.6,-5.0 0.3,-2.4 0,-0.2 Z"/><path transform="rotate(296) scale(0.965)" d="M0,-0.2 C-0.3,-2.4 -1.6,-5.0 -1.6,-6.75 C-1.6,-7.8 -0.9,-8.5 0,-8.5 C0.9,-8.5 1.6,-7.8 1.6,-6.75 C1.6,-5.0 0.3,-2.4 0,-0.2 Z"/><circle r="0.75"/></g>
<g transform="translate(741.10,282.10) scale(0.976)" fill="#0d0d0d"><path transform="rotate(0) scale(1)" d="M0,-0.2 C-0.3,-2.4 -1.6,-5.0 -1.6,-6.75 C-1.6,-7.8 -0.9,-8.5 0,-8.5 C0.9,-8.5 1.6,-7.8 1.6,-6.75 C1.6,-5.0 0.3,-2.4 0,-0.2 Z"/><path transform="rotate(64) scale(0.965)" d="M0,-0.2 C-0.3,-2.4 -1.6,-5.0 -1.6,-6.75 C-1.6,-7.8 -0.9,-8.5 0,-8.5 C0.9,-8.5 1.6,-7.8 1.6,-6.75 C1.6,-5.0 0.3,-2.4 0,-0.2 Z"/><path transform="rotate(116) scale(0.965)" d="M0,-0.2 C-0.3,-2.4 -1.6,-5.0 -1.6,-6.75 C-1.6,-7.8 -0.9,-8.5 0,-8.5 C0.9,-8.5 1.6,-7.8 1.6,-6.75 C1.6,-5.0 0.3,-2.4 0,-0.2 Z"/><path transform="rotate(180) scale(1)" d="M0,-0.2 C-0.3,-2.4 -1.6,-5.0 -1.6,-6.75 C-1.6,-7.8 -0.9,-8.5 0,-8.5 C0.9,-8.5 1.6,-7.8 1.6,-6.75 C1.6,-5.0 0.3,-2.4 0,-0.2 Z"/><path transform="rotate(244) scale(0.965)" d="M0,-0.2 C-0.3,-2.4 -1.6,-5.0 -1.6,-6.75 C-1.6,-7.8 -0.9,-8.5 0,-8.5 C0.9,-8.5 1.6,-7.8 1.6,-6.75 C1.6,-5.0 0.3,-2.4 0,-0.2 Z"/><path transform="rotate(296) scale(0.965)" d="M0,-0.2 C-0.3,-2.4 -1.6,-5.0 -1.6,-6.75 C-1.6,-7.8 -0.9,-8.5 0,-8.5 C0.9,-8.5 1.6,-7.8 1.6,-6.75 C1.6,-5.0 0.3,-2.4 0,-0.2 Z"/><circle r="0.75"/></g>
<g transform="translate(761.50,282.10) scale(0.976)" fill="#0d0d0d"><path transform="rotate(0) scale(1)" d="M0,-0.2 C-0.3,-2.4 -1.6,-5.0 -1.6,-6.75 C-1.6,-7.8 -0.9,-8.5 0,-8.5 C0.9,-8.5 1.6,-7.8 1.6,-6.75 C1.6,-5.0 0.3,-2.4 0,-0.2 Z"/><path transform="rotate(64) scale(0.965)" d="M0,-0.2 C-0.3,-2.4 -1.6,-5.0 -1.6,-6.75 C-1.6,-7.8 -0.9,-8.5 0,-8.5 C0.9,-8.5 1.6,-7.8 1.6,-6.75 C1.6,-5.0 0.3,-2.4 0,-0.2 Z"/><path transform="rotate(116) scale(0.965)" d="M0,-0.2 C-0.3,-2.4 -1.6,-5.0 -1.6,-6.75 C-1.6,-7.8 -0.9,-8.5 0,-8.5 C0.9,-8.5 1.6,-7.8 1.6,-6.75 C1.6,-5.0 0.3,-2.4 0,-0.2 Z"/><path transform="rotate(180) scale(1)" d="M0,-0.2 C-0.3,-2.4 -1.6,-5.0 -1.6,-6.75 C-1.6,-7.8 -0.9,-8.5 0,-8.5 C0.9,-8.5 1.6,-7.8 1.6,-6.75 C1.6,-5.0 0.3,-2.4 0,-0.2 Z"/><path transform="rotate(244) scale(0.965)" d="M0,-0.2 C-0.3,-2.4 -1.6,-5.0 -1.6,-6.75 C-1.6,-7.8 -0.9,-8.5 0,-8.5 C0.9,-8.5 1.6,-7.8 1.6,-6.75 C1.6,-5.0 0.3,-2.4 0,-0.2 Z"/><path transform="rotate(296) scale(0.965)" d="M0,-0.2 C-0.3,-2.4 -1.6,-5.0 -1.6,-6.75 C-1.6,-7.8 -0.9,-8.5 0,-8.5 C0.9,-8.5 1.6,-7.8 1.6,-6.75 C1.6,-5.0 0.3,-2.4 0,-0.2 Z"/><circle r="0.75"/></g>
<g transform="translate(774.20,317.90) scale(0.976)" fill="#0d0d0d"><path transform="rotate(0) scale(1)" d="M0,-0.2 C-0.3,-2.4 -1.6,-5.0 -1.6,-6.75 C-1.6,-7.8 -0.9,-8.5 0,-8.5 C0.9,-8.5 1.6,-7.8 1.6,-6.75 C1.6,-5.0 0.3,-2.4 0,-0.2 Z"/><path transform="rotate(64) scale(0.965)" d="M0,-0.2 C-0.3,-2.4 -1.6,-5.0 -1.6,-6.75 C-1.6,-7.8 -0.9,-8.5 0,-8.5 C0.9,-8.5 1.6,-7.8 1.6,-6.75 C1.6,-5.0 0.3,-2.4 0,-0.2 Z"/><path transform="rotate(116) scale(0.965)" d="M0,-0.2 C-0.3,-2.4 -1.6,-5.0 -1.6,-6.75 C-1.6,-7.8 -0.9,-8.5 0,-8.5 C0.9,-8.5 1.6,-7.8 1.6,-6.75 C1.6,-5.0 0.3,-2.4 0,-0.2 Z"/><path transform="rotate(180) scale(1)" d="M0,-0.2 C-0.3,-2.4 -1.6,-5.0 -1.6,-6.75 C-1.6,-7.8 -0.9,-8.5 0,-8.5 C0.9,-8.5 1.6,-7.8 1.6,-6.75 C1.6,-5.0 0.3,-2.4 0,-0.2 Z"/><path transform="rotate(244) scale(0.965)" d="M0,-0.2 C-0.3,-2.4 -1.6,-5.0 -1.6,-6.75 C-1.6,-7.8 -0.9,-8.5 0,-8.5 C0.9,-8.5 1.6,-7.8 1.6,-6.75 C1.6,-5.0 0.3,-2.4 0,-0.2 Z"/><path transform="rotate(296) scale(0.965)" d="M0,-0.2 C-0.3,-2.4 -1.6,-5.0 -1.6,-6.75 C-1.6,-7.8 -0.9,-8.5 0,-8.5 C0.9,-8.5 1.6,-7.8 1.6,-6.75 C1.6,-5.0 0.3,-2.4 0,-0.2 Z"/><circle r="0.75"/></g>
<g transform="translate(794.50,317.90) scale(0.976)" fill="#0d0d0d"><path transform="rotate(0) scale(1)" d="M0,-0.2 C-0.3,-2.4 -1.6,-5.0 -1.6,-6.75 C-1.6,-7.8 -0.9,-8.5 0,-8.5 C0.9,-8.5 1.6,-7.8 1.6,-6.75 C1.6,-5.0 0.3,-2.4 0,-0.2 Z"/><path transform="rotate(64) scale(0.965)" d="M0,-0.2 C-0.3,-2.4 -1.6,-5.0 -1.6,-6.75 C-1.6,-7.8 -0.9,-8.5 0,-8.5 C0.9,-8.5 1.6,-7.8 1.6,-6.75 C1.6,-5.0 0.3,-2.4 0,-0.2 Z"/><path transform="rotate(116) scale(0.965)" d="M0,-0.2 C-0.3,-2.4 -1.6,-5.0 -1.6,-6.75 C-1.6,-7.8 -0.9,-8.5 0,-8.5 C0.9,-8.5 1.6,-7.8 1.6,-6.75 C1.6,-5.0 0.3,-2.4 0,-0.2 Z"/><path transform="rotate(180) scale(1)" d="M0,-0.2 C-0.3,-2.4 -1.6,-5.0 -1.6,-6.75 C-1.6,-7.8 -0.9,-8.5 0,-8.5 C0.9,-8.5 1.6,-7.8 1.6,-6.75 C1.6,-5.0 0.3,-2.4 0,-0.2 Z"/><path transform="rotate(244) scale(0.965)" d="M0,-0.2 C-0.3,-2.4 -1.6,-5.0 -1.6,-6.75 C-1.6,-7.8 -0.9,-8.5 0,-8.5 C0.9,-8.5 1.6,-7.8 1.6,-6.75 C1.6,-5.0 0.3,-2.4 0,-0.2 Z"/><path transform="rotate(296) scale(0.965)" d="M0,-0.2 C-0.3,-2.4 -1.6,-5.0 -1.6,-6.75 C-1.6,-7.8 -0.9,-8.5 0,-8.5 C0.9,-8.5 1.6,-7.8 1.6,-6.75 C1.6,-5.0 0.3,-2.4 0,-0.2 Z"/><circle r="0.75"/></g>
<rect x="224.35" y="978.60" width="11.80" height="411.30" fill="#fff" stroke="#3c3c3c" stroke-width="1.2"/>
<rect x="236.15" y="1013.40" width="11.80" height="376.50" fill="#000"/>
<line x1="230.25" y1="947.60" x2="230.25" y2="978.60" stroke="#2b2b2b" stroke-width="1.2" stroke-linecap="butt"/>
<line x1="223.35" y1="947.60" x2="237.15" y2="947.60" stroke="#2b2b2b" stroke-width="1.2" stroke-linecap="butt"/>
<line x1="242.05" y1="970.60" x2="242.05" y2="1013.40" stroke="#2b2b2b" stroke-width="1.2" stroke-linecap="butt"/>
<line x1="235.15" y1="970.60" x2="248.95" y2="970.60" stroke="#2b2b2b" stroke-width="1.2" stroke-linecap="butt"/>
<rect x="263.09" y="891.00" width="11.80" height="498.90" fill="#fff" stroke="#3c3c3c" stroke-width="1.2"/>
<rect x="274.89" y="852.40" width="11.80" height="537.50" fill="#000"/>
<line x1="268.99" y1="856.70" x2="268.99" y2="891.00" stroke="#2b2b2b" stroke-width="1.2" stroke-linecap="butt"/>
<line x1="262.09" y1="856.70" x2="275.89" y2="856.70" stroke="#2b2b2b" stroke-width="1.2" stroke-linecap="butt"/>
<line x1="280.79" y1="805.30" x2="280.79" y2="852.40" stroke="#2b2b2b" stroke-width="1.2" stroke-linecap="butt"/>
<line x1="273.89" y1="805.30" x2="287.69" y2="805.30" stroke="#2b2b2b" stroke-width="1.2" stroke-linecap="butt"/>
<rect x="301.83" y="962.80" width="11.80" height="427.10" fill="#fff" stroke="#3c3c3c" stroke-width="1.2"/>
<rect x="313.63" y="877.40" width="11.80" height="512.50" fill="#000"/>
<line x1="307.73" y1="932.80" x2="307.73" y2="962.80" stroke="#2b2b2b" stroke-width="1.2" stroke-linecap="butt"/>
<line x1="300.83" y1="932.80" x2="314.63" y2="932.80" stroke="#2b2b2b" stroke-width="1.2" stroke-linecap="butt"/>
<line x1="319.53" y1="847.90" x2="319.53" y2="877.40" stroke="#2b2b2b" stroke-width="1.2" stroke-linecap="butt"/>
<line x1="312.63" y1="847.90" x2="326.43" y2="847.90" stroke="#2b2b2b" stroke-width="1.2" stroke-linecap="butt"/>
<rect x="340.58" y="960.60" width="11.80" height="429.30" fill="#fff" stroke="#3c3c3c" stroke-width="1.2"/>
<rect x="352.38" y="953.30" width="11.80" height="436.60" fill="#000"/>
<line x1="346.48" y1="940.90" x2="346.48" y2="960.60" stroke="#2b2b2b" stroke-width="1.2" stroke-linecap="butt"/>
<line x1="339.58" y1="940.90" x2="353.38" y2="940.90" stroke="#2b2b2b" stroke-width="1.2" stroke-linecap="butt"/>
<line x1="358.28" y1="923.00" x2="358.28" y2="953.30" stroke="#2b2b2b" stroke-width="1.2" stroke-linecap="butt"/>
<line x1="351.38" y1="923.00" x2="365.18" y2="923.00" stroke="#2b2b2b" stroke-width="1.2" stroke-linecap="butt"/>
<rect x="379.32" y="1000.50" width="11.80" height="389.40" fill="#fff" stroke="#3c3c3c" stroke-width="1.2"/>
<rect x="391.12" y="960.60" width="11.80" height="429.30" fill="#000"/>
<line x1="385.22" y1="979.60" x2="385.22" y2="1000.50" stroke="#2b2b2b" stroke-width="1.2" stroke-linecap="butt"/>
<line x1="378.32" y1="979.60" x2="392.12" y2="979.60" stroke="#2b2b2b" stroke-width="1.2" stroke-linecap="butt"/>
<line x1="397.02" y1="924.20" x2="397.02" y2="960.60" stroke="#2b2b2b" stroke-width="1.2" stroke-linecap="butt"/>
<line x1="390.12" y1="924.20" x2="403.92" y2="924.20" stroke="#2b2b2b" stroke-width="1.2" stroke-linecap="butt"/>
<rect x="418.06" y="1047.40" width="11.80" height="342.50" fill="#fff" stroke="#3c3c3c" stroke-width="1.2"/>
<rect x="429.86" y="1046.40" width="11.80" height="343.50" fill="#000"/>
<line x1="423.96" y1="1020.90" x2="423.96" y2="1047.40" stroke="#2b2b2b" stroke-width="1.2" stroke-linecap="butt"/>
<line x1="417.06" y1="1020.90" x2="430.86" y2="1020.90" stroke="#2b2b2b" stroke-width="1.2" stroke-linecap="butt"/>
<line x1="435.76" y1="994.20" x2="435.76" y2="1046.40" stroke="#2b2b2b" stroke-width="1.2" stroke-linecap="butt"/>
<line x1="428.86" y1="994.20" x2="442.66" y2="994.20" stroke="#2b2b2b" stroke-width="1.2" stroke-linecap="butt"/>
<rect x="456.80" y="966.50" width="11.80" height="423.40" fill="#fff" stroke="#3c3c3c" stroke-width="1.2"/>
<rect x="468.60" y="949.80" width="11.80" height="440.10" fill="#000"/>
<line x1="462.70" y1="943.10" x2="462.70" y2="966.50" stroke="#2b2b2b" stroke-width="1.2" stroke-linecap="butt"/>
<line x1="455.80" y1="943.10" x2="469.60" y2="943.10" stroke="#2b2b2b" stroke-width="1.2" stroke-linecap="butt"/>
<line x1="474.50" y1="914.70" x2="474.50" y2="949.80" stroke="#2b2b2b" stroke-width="1.2" stroke-linecap="butt"/>
<line x1="467.60" y1="914.70" x2="481.40" y2="914.70" stroke="#2b2b2b" stroke-width="1.2" stroke-linecap="butt"/>
<rect x="495.54" y="1030.50" width="11.80" height="359.40" fill="#fff" stroke="#3c3c3c" stroke-width="1.2"/>
<rect x="507.34" y="1001.50" width="11.80" height="388.40" fill="#000"/>
<line x1="501.44" y1="1006.80" x2="501.44" y2="1030.50" stroke="#2b2b2b" stroke-width="1.2" stroke-linecap="butt"/>
<line x1="494.54" y1="1006.80" x2="508.34" y2="1006.80" stroke="#2b2b2b" stroke-width="1.2" stroke-linecap="butt"/>
<line x1="513.24" y1="963.60" x2="513.24" y2="1001.50" stroke="#2b2b2b" stroke-width="1.2" stroke-linecap="butt"/>
<line x1="506.34" y1="963.60" x2="520.14" y2="963.60" stroke="#2b2b2b" stroke-width="1.2" stroke-linecap="butt"/>
<rect x="534.29" y="1032.70" width="11.80" height="357.20" fill="#fff" stroke="#3c3c3c" stroke-width="1.2"/>
<rect x="546.09" y="1062.50" width="11.80" height="327.40" fill="#000"/>
<line x1="540.19" y1="990.70" x2="540.19" y2="1032.70" stroke="#2b2b2b" stroke-width="1.2" stroke-linecap="butt"/>
<line x1="533.29" y1="990.70" x2="547.09" y2="990.70" stroke="#2b2b2b" stroke-width="1.2" stroke-linecap="butt"/>
<line x1="551.99" y1="1007.00" x2="551.99" y2="1062.50" stroke="#2b2b2b" stroke-width="1.2" stroke-linecap="butt"/>
<line x1="545.09" y1="1007.00" x2="558.89" y2="1007.00" stroke="#2b2b2b" stroke-width="1.2" stroke-linecap="butt"/>
<rect x="573.03" y="1049.90" width="11.80" height="340.00" fill="#fff" stroke="#3c3c3c" stroke-width="1.2"/>
<rect x="584.83" y="998.00" width="11.80" height="391.90" fill="#000"/>
<line x1="578.93" y1="1018.40" x2="578.93" y2="1049.90" stroke="#2b2b2b" stroke-width="1.2" stroke-linecap="butt"/>
<line x1="572.03" y1="1018.40" x2="585.83" y2="1018.40" stroke="#2b2b2b" stroke-width="1.2" stroke-linecap="butt"/>
<line x1="590.73" y1="937.00" x2="590.73" y2="998.00" stroke="#2b2b2b" stroke-width="1.2" stroke-linecap="butt"/>
<line x1="583.83" y1="937.00" x2="597.63" y2="937.00" stroke="#2b2b2b" stroke-width="1.2" stroke-linecap="butt"/>
<rect x="611.77" y="1135.70" width="11.80" height="254.20" fill="#fff" stroke="#3c3c3c" stroke-width="1.2"/>
<rect x="623.57" y="1066.40" width="11.80" height="323.50" fill="#000"/>
<line x1="617.67" y1="1091.40" x2="617.67" y2="1135.70" stroke="#2b2b2b" stroke-width="1.2" stroke-linecap="butt"/>
<line x1="610.77" y1="1091.40" x2="624.57" y2="1091.40" stroke="#2b2b2b" stroke-width="1.2" stroke-linecap="butt"/>
<line x1="629.47" y1="1036.00" x2="629.47" y2="1066.40" stroke="#2b2b2b" stroke-width="1.2" stroke-linecap="butt"/>
<line x1="622.57" y1="1036.00" x2="636.37" y2="1036.00" stroke="#2b2b2b" stroke-width="1.2" stroke-linecap="butt"/>
<rect x="650.51" y="1141.30" width="11.80" height="248.60" fill="#fff" stroke="#3c3c3c" stroke-width="1.2"/>
<rect x="662.31" y="1020.70" width="11.80" height="369.20" fill="#000"/>
<line x1="656.41" y1="1096.00" x2="656.41" y2="1141.30" stroke="#2b2b2b" stroke-width="1.2" stroke-linecap="butt"/>
<line x1="649.51" y1="1096.00" x2="663.31" y2="1096.00" stroke="#2b2b2b" stroke-width="1.2" stroke-linecap="butt"/>
<line x1="668.21" y1="994.70" x2="668.21" y2="1020.70" stroke="#2b2b2b" stroke-width="1.2" stroke-linecap="butt"/>
<line x1="661.31" y1="994.70" x2="675.11" y2="994.70" stroke="#2b2b2b" stroke-width="1.2" stroke-linecap="butt"/>
<rect x="689.25" y="1106.50" width="11.80" height="283.40" fill="#fff" stroke="#3c3c3c" stroke-width="1.2"/>
<rect x="701.05" y="1033.50" width="11.80" height="356.40" fill="#000"/>
<line x1="695.15" y1="1063.00" x2="695.15" y2="1106.50" stroke="#2b2b2b" stroke-width="1.2" stroke-linecap="butt"/>
<line x1="688.25" y1="1063.00" x2="702.05" y2="1063.00" stroke="#2b2b2b" stroke-width="1.2" stroke-linecap="butt"/>
<line x1="706.95" y1="1015.60" x2="706.95" y2="1033.50" stroke="#2b2b2b" stroke-width="1.2" stroke-linecap="butt"/>
<line x1="700.05" y1="1015.60" x2="713.85" y2="1015.60" stroke="#2b2b2b" stroke-width="1.2" stroke-linecap="butt"/>
<rect x="728.00" y="1164.20" width="11.80" height="225.70" fill="#fff" stroke="#3c3c3c" stroke-width="1.2"/>
<rect x="739.80" y="1074.40" width="11.80" height="315.50" fill="#000"/>
<line x1="733.90" y1="1128.70" x2="733.90" y2="1164.20" stroke="#2b2b2b" stroke-width="1.2" stroke-linecap="butt"/>
<line x1="727.00" y1="1128.70" x2="740.80" y2="1128.70" stroke="#2b2b2b" stroke-width="1.2" stroke-linecap="butt"/>
<line x1="745.70" y1="1052.10" x2="745.70" y2="1074.40" stroke="#2b2b2b" stroke-width="1.2" stroke-linecap="butt"/>
<line x1="738.80" y1="1052.10" x2="752.60" y2="1052.10" stroke="#2b2b2b" stroke-width="1.2" stroke-linecap="butt"/>
<rect x="766.74" y="1133.20" width="11.80" height="256.70" fill="#fff" stroke="#3c3c3c" stroke-width="1.2"/>
<rect x="778.54" y="1077.70" width="11.80" height="312.20" fill="#000"/>
<line x1="772.64" y1="1086.90" x2="772.64" y2="1133.20" stroke="#2b2b2b" stroke-width="1.2" stroke-linecap="butt"/>
<line x1="765.74" y1="1086.90" x2="779.54" y2="1086.90" stroke="#2b2b2b" stroke-width="1.2" stroke-linecap="butt"/>
<line x1="784.44" y1="1059.10" x2="784.44" y2="1077.70" stroke="#2b2b2b" stroke-width="1.2" stroke-linecap="butt"/>
<line x1="777.54" y1="1059.10" x2="791.34" y2="1059.10" stroke="#2b2b2b" stroke-width="1.2" stroke-linecap="butt"/>
<rect x="805.48" y="1166.70" width="11.80" height="223.20" fill="#fff" stroke="#3c3c3c" stroke-width="1.2"/>
<rect x="817.28" y="1107.90" width="11.80" height="282.00" fill="#000"/>
<line x1="811.38" y1="1136.00" x2="811.38" y2="1166.70" stroke="#2b2b2b" stroke-width="1.2" stroke-linecap="butt"/>
<line x1="804.48" y1="1136.00" x2="818.28" y2="1136.00" stroke="#2b2b2b" stroke-width="1.2" stroke-linecap="butt"/>
<line x1="823.18" y1="1091.90" x2="823.18" y2="1107.90" stroke="#2b2b2b" stroke-width="1.2" stroke-linecap="butt"/>
<line x1="816.28" y1="1091.90" x2="830.08" y2="1091.90" stroke="#2b2b2b" stroke-width="1.2" stroke-linecap="butt"/>
<rect x="844.22" y="1136.50" width="11.80" height="253.40" fill="#fff" stroke="#3c3c3c" stroke-width="1.2"/>
<rect x="856.02" y="1079.80" width="11.80" height="310.10" fill="#000"/>
<line x1="850.12" y1="1094.20" x2="850.12" y2="1136.50" stroke="#2b2b2b" stroke-width="1.2" stroke-linecap="butt"/>
<line x1="843.22" y1="1094.20" x2="857.02" y2="1094.20" stroke="#2b2b2b" stroke-width="1.2" stroke-linecap="butt"/>
<line x1="861.92" y1="1062.20" x2="861.92" y2="1079.80" stroke="#2b2b2b" stroke-width="1.2" stroke-linecap="butt"/>
<line x1="855.02" y1="1062.20" x2="868.82" y2="1062.20" stroke="#2b2b2b" stroke-width="1.2" stroke-linecap="butt"/>
<rect x="882.96" y="1169.70" width="11.80" height="220.20" fill="#fff" stroke="#3c3c3c" stroke-width="1.2"/>
<rect x="894.76" y="1130.20" width="11.80" height="259.70" fill="#000"/>
<line x1="888.86" y1="1141.80" x2="888.86" y2="1169.70" stroke="#2b2b2b" stroke-width="1.2" stroke-linecap="butt"/>
<line x1="881.96" y1="1141.80" x2="895.76" y2="1141.80" stroke="#2b2b2b" stroke-width="1.2" stroke-linecap="butt"/>
<line x1="900.66" y1="1101.50" x2="900.66" y2="1130.20" stroke="#2b2b2b" stroke-width="1.2" stroke-linecap="butt"/>
<line x1="893.76" y1="1101.50" x2="907.56" y2="1101.50" stroke="#2b2b2b" stroke-width="1.2" stroke-linecap="butt"/>
<rect x="199.70" y="1251.00" width="720.70" height="19.80" fill="#fff"/>
<line x1="199.70" y1="1251.00" x2="920.40" y2="1251.00" stroke="#111" stroke-width="2.5" stroke-linecap="butt"/>
<line x1="199.70" y1="1270.80" x2="920.40" y2="1270.80" stroke="#111" stroke-width="2.5" stroke-linecap="butt"/>
<line x1="216.75" y1="793.70" x2="216.75" y2="1251.00" stroke="#4a4a4a" stroke-width="1.5" stroke-linecap="butt"/>
<line x1="216.75" y1="1270.80" x2="216.75" y2="1390.60" stroke="#4a4a4a" stroke-width="1.5" stroke-linecap="butt"/>
<line x1="205.35" y1="794.40" x2="216.75" y2="794.40" stroke="#4a4a4a" stroke-width="1.4" stroke-linecap="butt"/>
<line x1="205.35" y1="880.00" x2="216.75" y2="880.00" stroke="#4a4a4a" stroke-width="1.4" stroke-linecap="butt"/>
<line x1="205.35" y1="965.30" x2="216.75" y2="965.30" stroke="#4a4a4a" stroke-width="1.4" stroke-linecap="butt"/>
<line x1="205.35" y1="1050.00" x2="216.75" y2="1050.00" stroke="#4a4a4a" stroke-width="1.4" stroke-linecap="butt"/>
<line x1="205.35" y1="1135.30" x2="216.75" y2="1135.30" stroke="#4a4a4a" stroke-width="1.4" stroke-linecap="butt"/>
<line x1="205.35" y1="1220.40" x2="216.75" y2="1220.40" stroke="#4a4a4a" stroke-width="1.4" stroke-linecap="butt"/>
<line x1="205.35" y1="1304.30" x2="216.75" y2="1304.30" stroke="#4a4a4a" stroke-width="1.4" stroke-linecap="butt"/>
<line x1="205.35" y1="1389.90" x2="914.80" y2="1389.90" stroke="#4a4a4a" stroke-width="1.4" stroke-linecap="butt"/>
<line x1="255.49" y1="1381.90" x2="255.49" y2="1389.90" stroke="#4a4a4a" stroke-width="1.3" stroke-linecap="butt"/>
<line x1="294.23" y1="1381.90" x2="294.23" y2="1389.90" stroke="#4a4a4a" stroke-width="1.3" stroke-linecap="butt"/>
<line x1="332.98" y1="1381.90" x2="332.98" y2="1389.90" stroke="#4a4a4a" stroke-width="1.3" stroke-linecap="butt"/>
<line x1="371.72" y1="1381.90" x2="371.72" y2="1389.90" stroke="#4a4a4a" stroke-width="1.3" stroke-linecap="butt"/>
<line x1="410.46" y1="1381.90" x2="410.46" y2="1389.90" stroke="#4a4a4a" stroke-width="1.3" stroke-linecap="butt"/>
<line x1="449.20" y1="1381.90" x2="449.20" y2="1389.90" stroke="#4a4a4a" stroke-width="1.3" stroke-linecap="butt"/>
<line x1="487.94" y1="1381.90" x2="487.94" y2="1389.90" stroke="#4a4a4a" stroke-width="1.3" stroke-linecap="butt"/>
<line x1="526.69" y1="1381.90" x2="526.69" y2="1389.90" stroke="#4a4a4a" stroke-width="1.3" stroke-linecap="butt"/>
<line x1="565.43" y1="1381.90" x2="565.43" y2="1389.90" stroke="#4a4a4a" stroke-width="1.3" stroke-linecap="butt"/>
<line x1="604.17" y1="1381.90" x2="604.17" y2="1389.90" stroke="#4a4a4a" stroke-width="1.3" stroke-linecap="butt"/>
<line x1="642.91" y1="1381.90" x2="642.91" y2="1389.90" stroke="#4a4a4a" stroke-width="1.3" stroke-linecap="butt"/>
<line x1="681.65" y1="1381.90" x2="681.65" y2="1389.90" stroke="#4a4a4a" stroke-width="1.3" stroke-linecap="butt"/>
<line x1="720.40" y1="1381.90" x2="720.40" y2="1389.90" stroke="#4a4a4a" stroke-width="1.3" stroke-linecap="butt"/>
<line x1="759.14" y1="1381.90" x2="759.14" y2="1389.90" stroke="#4a4a4a" stroke-width="1.3" stroke-linecap="butt"/>
<line x1="797.88" y1="1381.90" x2="797.88" y2="1389.90" stroke="#4a4a4a" stroke-width="1.3" stroke-linecap="butt"/>
<line x1="836.62" y1="1381.90" x2="836.62" y2="1389.90" stroke="#4a4a4a" stroke-width="1.3" stroke-linecap="butt"/>
<line x1="875.36" y1="1381.90" x2="875.36" y2="1389.90" stroke="#4a4a4a" stroke-width="1.3" stroke-linecap="butt"/>
<line x1="914.11" y1="1381.90" x2="914.11" y2="1389.90" stroke="#4a4a4a" stroke-width="1.3" stroke-linecap="butt"/>
<text transform="translate(84.28,805.90) scale(1.0,1.0)" text-anchor="start" font-size="36.35" font-family="Liberation Sans, sans-serif" fill="#111" stroke="#111" stroke-width="0.35">0.</text>
<path transform="translate(114.60,805.90) scale(36.350,36.350)" d="M0.372,0 H0.284 V-0.548 Q0.215,-0.485 0.109,-0.447 V-0.532 Q0.262,-0.600 0.316,-0.705 H0.372 Z" fill="#111" stroke="#111" stroke-width="0.0096"/>
<text transform="translate(134.82,805.90) scale(1.0,1.0)" text-anchor="start" font-size="36.35" font-family="Liberation Sans, sans-serif" fill="#111" stroke="#111" stroke-width="0.35">30</text>
<text transform="translate(84.28,891.50) scale(1.0,1.0)" text-anchor="start" font-size="36.35" font-family="Liberation Sans, sans-serif" fill="#111" stroke="#111" stroke-width="0.35">0.</text>
<path transform="translate(114.60,891.50) scale(36.350,36.350)" d="M0.372,0 H0.284 V-0.548 Q0.215,-0.485 0.109,-0.447 V-0.532 Q0.262,-0.600 0.316,-0.705 H0.372 Z" fill="#111" stroke="#111" stroke-width="0.0096"/>
<text transform="translate(134.82,891.50) scale(1.0,1.0)" text-anchor="start" font-size="36.35" font-family="Liberation Sans, sans-serif" fill="#111" stroke="#111" stroke-width="0.35">20</text>
<text transform="translate(84.28,976.80) scale(1.0,1.0)" text-anchor="start" font-size="36.35" font-family="Liberation Sans, sans-serif" fill="#111" stroke="#111" stroke-width="0.35">0.</text>
<path transform="translate(114.60,976.80) scale(36.350,36.350)" d="M0.372,0 H0.284 V-0.548 Q0.215,-0.485 0.109,-0.447 V-0.532 Q0.262,-0.600 0.316,-0.705 H0.372 Z" fill="#111" stroke="#111" stroke-width="0.0096"/>
<path transform="translate(134.82,976.80) scale(36.350,36.350)" d="M0.372,0 H0.284 V-0.548 Q0.215,-0.485 0.109,-0.447 V-0.532 Q0.262,-0.600 0.316,-0.705 H0.372 Z" fill="#111" stroke="#111" stroke-width="0.0096"/>
<text transform="translate(155.03,976.80) scale(1.0,1.0)" text-anchor="start" font-size="36.35" font-family="Liberation Sans, sans-serif" fill="#111" stroke="#111" stroke-width="0.35">0</text>
<text transform="translate(84.28,1061.50) scale(1.0,1.0)" text-anchor="start" font-size="36.35" font-family="Liberation Sans, sans-serif" fill="#111" stroke="#111" stroke-width="0.35">0.</text>
<path transform="translate(114.60,1061.50) scale(36.350,36.350)" d="M0.372,0 H0.284 V-0.548 Q0.215,-0.485 0.109,-0.447 V-0.532 Q0.262,-0.600 0.316,-0.705 H0.372 Z" fill="#111" stroke="#111" stroke-width="0.0096"/>
<text transform="translate(134.82,1061.50) scale(1.0,1.0)" text-anchor="start" font-size="36.35" font-family="Liberation Sans, sans-serif" fill="#111" stroke="#111" stroke-width="0.35">00</text>
<text transform="translate(84.28,1146.80) scale(1.0,1.0)" text-anchor="start" font-size="36.35" font-family="Liberation Sans, sans-serif" fill="#111" stroke="#111" stroke-width="0.35">0.090</text>
<text transform="translate(84.28,1231.90) scale(1.0,1.0)" text-anchor="start" font-size="36.35" font-family="Liberation Sans, sans-serif" fill="#111" stroke="#111" stroke-width="0.35">0.080</text>
<text transform="translate(84.28,1315.80) scale(1.0,1.0)" text-anchor="start" font-size="36.35" font-family="Liberation Sans, sans-serif" fill="#111" stroke="#111" stroke-width="0.35">0.0</text>
<path transform="translate(134.82,1315.80) scale(36.350,36.350)" d="M0.372,0 H0.284 V-0.548 Q0.215,-0.485 0.109,-0.447 V-0.532 Q0.262,-0.600 0.316,-0.705 H0.372 Z" fill="#111" stroke="#111" stroke-width="0.0096"/>
<text transform="translate(155.03,1315.80) scale(1.0,1.0)" text-anchor="start" font-size="36.35" font-family="Liberation Sans, sans-serif" fill="#111" stroke="#111" stroke-width="0.35">0</text>
<text transform="translate(84.28,1401.40) scale(1.0,1.0)" text-anchor="start" font-size="36.35" font-family="Liberation Sans, sans-serif" fill="#111" stroke="#111" stroke-width="0.35">0.000</text>
<text transform="translate(229.11,1425.70) scale(1.0,0.94)" text-anchor="start" font-size="25.20" font-family="Liberation Sans, sans-serif" fill="#111" stroke="#111" stroke-width="0.35">0</text>
<path transform="translate(267.86,1425.70) scale(25.200,23.688)" d="M0.372,0 H0.284 V-0.548 Q0.215,-0.485 0.109,-0.447 V-0.532 Q0.262,-0.600 0.316,-0.705 H0.372 Z" fill="#111" stroke="#111" stroke-width="0.0139"/>
<text transform="translate(306.60,1425.70) scale(1.0,0.94)" text-anchor="start" font-size="25.20" font-family="Liberation Sans, sans-serif" fill="#111" stroke="#111" stroke-width="0.35">2</text>
<text transform="translate(345.34,1425.70) scale(1.0,0.94)" text-anchor="start" font-size="25.20" font-family="Liberation Sans, sans-serif" fill="#111" stroke="#111" stroke-width="0.35">3</text>
<text transform="translate(384.08,1425.70) scale(1.0,0.94)" text-anchor="start" font-size="25.20" font-family="Liberation Sans, sans-serif" fill="#111" stroke="#111" stroke-width="0.35">4</text>
<text transform="translate(422.82,1425.70) scale(1.0,0.94)" text-anchor="start" font-size="25.20" font-family="Liberation Sans, sans-serif" fill="#111" stroke="#111" stroke-width="0.35">7</text>
<text transform="translate(461.57,1425.70) scale(1.0,0.94)" text-anchor="start" font-size="25.20" font-family="Liberation Sans, sans-serif" fill="#111" stroke="#111" stroke-width="0.35">8</text>
<text transform="translate(500.31,1425.70) scale(1.0,0.94)" text-anchor="start" font-size="25.20" font-family="Liberation Sans, sans-serif" fill="#111" stroke="#111" stroke-width="0.35">9</text>
<path transform="translate(532.04,1425.70) scale(25.200,23.688)" d="M0.372,0 H0.284 V-0.548 Q0.215,-0.485 0.109,-0.447 V-0.532 Q0.262,-0.600 0.316,-0.705 H0.372 Z" fill="#111" stroke="#111" stroke-width="0.0139"/>
<text transform="translate(546.06,1425.70) scale(1.0,0.94)" text-anchor="start" font-size="25.20" font-family="Liberation Sans, sans-serif" fill="#111" stroke="#111" stroke-width="0.35">0</text>
<path transform="translate(570.78,1425.70) scale(25.200,23.688)" d="M0.372,0 H0.284 V-0.548 Q0.215,-0.485 0.109,-0.447 V-0.532 Q0.262,-0.600 0.316,-0.705 H0.372 Z" fill="#111" stroke="#111" stroke-width="0.0139"/>
<path transform="translate(584.80,1425.70) scale(25.200,23.688)" d="M0.372,0 H0.284 V-0.548 Q0.215,-0.485 0.109,-0.447 V-0.532 Q0.262,-0.600 0.316,-0.705 H0.372 Z" fill="#111" stroke="#111" stroke-width="0.0139"/>
<path transform="translate(609.53,1425.70) scale(25.200,23.688)" d="M0.372,0 H0.284 V-0.548 Q0.215,-0.485 0.109,-0.447 V-0.532 Q0.262,-0.600 0.316,-0.705 H0.372 Z" fill="#111" stroke="#111" stroke-width="0.0139"/>
<text transform="translate(623.54,1425.70) scale(1.0,0.94)" text-anchor="start" font-size="25.20" font-family="Liberation Sans, sans-serif" fill="#111" stroke="#111" stroke-width="0.35">5</text>
<path transform="translate(648.27,1425.70) scale(25.200,23.688)" d="M0.372,0 H0.284 V-0.548 Q0.215,-0.485 0.109,-0.447 V-0.532 Q0.262,-0.600 0.316,-0.705 H0.372 Z" fill="#111" stroke="#111" stroke-width="0.0139"/>
<text transform="translate(662.28,1425.70) scale(1.0,0.94)" text-anchor="start" font-size="25.20" font-family="Liberation Sans, sans-serif" fill="#111" stroke="#111" stroke-width="0.35">6</text>
<path transform="translate(687.01,1425.70) scale(25.200,23.688)" d="M0.372,0 H0.284 V-0.548 Q0.215,-0.485 0.109,-0.447 V-0.532 Q0.262,-0.600 0.316,-0.705 H0.372 Z" fill="#111" stroke="#111" stroke-width="0.0139"/>
<text transform="translate(701.02,1425.70) scale(1.0,0.94)" text-anchor="start" font-size="25.20" font-family="Liberation Sans, sans-serif" fill="#111" stroke="#111" stroke-width="0.35">7</text>
<path transform="translate(725.75,1425.70) scale(25.200,23.688)" d="M0.372,0 H0.284 V-0.548 Q0.215,-0.485 0.109,-0.447 V-0.532 Q0.262,-0.600 0.316,-0.705 H0.372 Z" fill="#111" stroke="#111" stroke-width="0.0139"/>
<text transform="translate(739.77,1425.70) scale(1.0,0.94)" text-anchor="start" font-size="25.20" font-family="Liberation Sans, sans-serif" fill="#111" stroke="#111" stroke-width="0.35">8</text>
<text transform="translate(764.49,1425.70) scale(1.0,0.94)" text-anchor="start" font-size="25.20" font-family="Liberation Sans, sans-serif" fill="#111" stroke="#111" stroke-width="0.35">2</text>
<path transform="translate(778.51,1425.70) scale(25.200,23.688)" d="M0.372,0 H0.284 V-0.548 Q0.215,-0.485 0.109,-0.447 V-0.532 Q0.262,-0.600 0.316,-0.705 H0.372 Z" fill="#111" stroke="#111" stroke-width="0.0139"/>
<text transform="translate(803.24,1425.70) scale(1.0,0.94)" text-anchor="start" font-size="25.20" font-family="Liberation Sans, sans-serif" fill="#111" stroke="#111" stroke-width="0.35">22</text>
<text transform="translate(841.98,1425.70) scale(1.0,0.94)" text-anchor="start" font-size="25.20" font-family="Liberation Sans, sans-serif" fill="#111" stroke="#111" stroke-width="0.35">25</text>
<text transform="translate(880.72,1425.70) scale(1.0,0.94)" text-anchor="start" font-size="25.20" font-family="Liberation Sans, sans-serif" fill="#111" stroke="#111" stroke-width="0.35">28</text>
<text transform="translate(507.95,1468.20) scale(1.0,1.03)" text-anchor="start" font-size="39.43" font-family="Liberation Sans, sans-serif" fill="#111" stroke="#111" stroke-width="0.35">Days</text>
<text transform="translate(1.57,782.20) scale(1,1.01)" font-size="64.66" font-family="Liberation Sans, sans-serif" fill="#1c1c1c" stroke="#fff" stroke-width="0.6">C</text>
<text style="font-kerning:normal" transform="translate(50.90,1316.20) rotate(-90) scale(1,0.99)" text-anchor="start" font-size="39.50" font-family="Liberation Sans, sans-serif" fill="#111" stroke="#111" stroke-width="0.35">Water intake/body weight</text>
<g transform="translate(662.20,968.40) scale(0.976)" fill="#0d0d0d"><path transform="rotate(0) scale(1)" d="M0,-0.2 C-0.3,-2.4 -1.6,-5.0 -1.6,-6.75 C-1.6,-7.8 -0.9,-8.5 0,-8.5 C0.9,-8.5 1.6,-7.8 1.6,-6.75 C1.6,-5.0 0.3,-2.4 0,-0.2 Z"/><path transform="rotate(64) scale(0.965)" d="M0,-0.2 C-0.3,-2.4 -1.6,-5.0 -1.6,-6.75 C-1.6,-7.8 -0.9,-8.5 0,-8.5 C0.9,-8.5 1.6,-7.8 1.6,-6.75 C1.6,-5.0 0.3,-2.4 0,-0.2 Z"/><path transform="rotate(116) scale(0.965)" d="M0,-0.2 C-0.3,-2.4 -1.6,-5.0 -1.6,-6.75 C-1.6,-7.8 -0.9,-8.5 0,-8.5 C0.9,-8.5 1.6,-7.8 1.6,-6.75 C1.6,-5.0 0.3,-2.4 0,-0.2 Z"/><path transform="rotate(180) scale(1)" d="M0,-0.2 C-0.3,-2.4 -1.6,-5.0 -1.6,-6.75 C-1.6,-7.8 -0.9,-8.5 0,-8.5 C0.9,-8.5 1.6,-7.8 1.6,-6.75 C1.6,-5.0 0.3,-2.4 0,-0.2 Z"/><path transform="rotate(244) scale(0.965)" d="M0,-0.2 C-0.3,-2.4 -1.6,-5.0 -1.6,-6.75 C-1.6,-7.8 -0.9,-8.5 0,-8.5 C0.9,-8.5 1.6,-7.8 1.6,-6.75 C1.6,-5.0 0.3,-2.4 0,-0.2 Z"/><path transform="rotate(296) scale(0.965)" d="M0,-0.2 C-0.3,-2.4 -1.6,-5.0 -1.6,-6.75 C-1.6,-7.8 -0.9,-8.5 0,-8.5 C0.9,-8.5 1.6,-7.8 1.6,-6.75 C1.6,-5.0 0.3,-2.4 0,-0.2 Z"/><circle r="0.75"/></g>
<g transform="translate(740.40,1021.20) scale(0.976)" fill="#0d0d0d"><path transform="rotate(0) scale(1)" d="M0,-0.2 C-0.3,-2.4 -1.6,-5.0 -1.6,-6.75 C-1.6,-7.8 -0.9,-8.5 0,-8.5 C0.9,-8.5 1.6,-7.8 1.6,-6.75 C1.6,-5.0 0.3,-2.4 0,-0.2 Z"/><path transform="rotate(64) scale(0.965)" d="M0,-0.2 C-0.3,-2.4 -1.6,-5.0 -1.6,-6.75 C-1.6,-7.8 -0.9,-8.5 0,-8.5 C0.9,-8.5 1.6,-7.8 1.6,-6.75 C1.6,-5.0 0.3,-2.4 0,-0.2 Z"/><path transform="rotate(116) scale(0.965)" d="M0,-0.2 C-0.3,-2.4 -1.6,-5.0 -1.6,-6.75 C-1.6,-7.8 -0.9,-8.5 0,-8.5 C0.9,-8.5 1.6,-7.8 1.6,-6.75 C1.6,-5.0 0.3,-2.4 0,-0.2 Z"/><path transform="rotate(180) scale(1)" d="M0,-0.2 C-0.3,-2.4 -1.6,-5.0 -1.6,-6.75 C-1.6,-7.8 -0.9,-8.5 0,-8.5 C0.9,-8.5 1.6,-7.8 1.6,-6.75 C1.6,-5.0 0.3,-2.4 0,-0.2 Z"/><path transform="rotate(244) scale(0.965)" d="M0,-0.2 C-0.3,-2.4 -1.6,-5.0 -1.6,-6.75 C-1.6,-7.8 -0.9,-8.5 0,-8.5 C0.9,-8.5 1.6,-7.8 1.6,-6.75 C1.6,-5.0 0.3,-2.4 0,-0.2 Z"/><path transform="rotate(296) scale(0.965)" d="M0,-0.2 C-0.3,-2.4 -1.6,-5.0 -1.6,-6.75 C-1.6,-7.8 -0.9,-8.5 0,-8.5 C0.9,-8.5 1.6,-7.8 1.6,-6.75 C1.6,-5.0 0.3,-2.4 0,-0.2 Z"/><circle r="0.75"/></g>
<line x1="1136.60" y1="50.00" x2="1136.60" y2="642.80" stroke="#4a4a4a" stroke-width="1.3" stroke-linecap="butt"/>
<line x1="1126.30" y1="50.60" x2="1136.60" y2="50.60" stroke="#4a4a4a" stroke-width="1.3" stroke-linecap="butt"/>
<line x1="1126.30" y1="247.70" x2="1136.60" y2="247.70" stroke="#4a4a4a" stroke-width="1.3" stroke-linecap="butt"/>
<line x1="1126.30" y1="444.50" x2="1136.60" y2="444.50" stroke="#4a4a4a" stroke-width="1.3" stroke-linecap="butt"/>
<line x1="1126.30" y1="642.20" x2="1327.60" y2="642.20" stroke="#4a4a4a" stroke-width="1.3" stroke-linecap="butt"/>
<line x1="1231.60" y1="633.90" x2="1231.60" y2="642.20" stroke="#4a4a4a" stroke-width="1.3" stroke-linecap="butt"/>
<line x1="1327.00" y1="633.90" x2="1327.00" y2="642.20" stroke="#4a4a4a" stroke-width="1.3" stroke-linecap="butt"/>
<rect x="1147.50" y="251.50" width="73.30" height="390.70" fill="#fff" stroke="#111" stroke-width="2.6"/>
<rect x="1243.10" y="203.80" width="73.00" height="439.20" fill="#000"/>
<line x1="1184.10" y1="243.80" x2="1184.10" y2="251.50" stroke="#111" stroke-width="2.5" stroke-linecap="butt"/>
<line x1="1177.10" y1="243.80" x2="1191.10" y2="243.80" stroke="#111" stroke-width="2.5" stroke-linecap="butt"/>
<line x1="1279.30" y1="192.50" x2="1279.30" y2="203.80" stroke="#111" stroke-width="2.5" stroke-linecap="butt"/>
<line x1="1272.30" y1="192.50" x2="1286.30" y2="192.50" stroke="#111" stroke-width="2.5" stroke-linecap="butt"/>
<rect x="1122.00" y="355.40" width="211.00" height="19.80" fill="#fff"/>
<line x1="1122.00" y1="355.40" x2="1333.00" y2="355.40" stroke="#111" stroke-width="2.5" stroke-linecap="butt"/>
<line x1="1122.00" y1="375.20" x2="1333.00" y2="375.20" stroke="#111" stroke-width="2.5" stroke-linecap="butt"/>
<text transform="translate(1049.29,65.20) scale(1.0,1.0)" text-anchor="start" font-size="35.20" font-family="Liberation Sans, sans-serif" fill="#111" stroke="#111" stroke-width="0.35">0.08</text>
<text transform="translate(1049.29,262.30) scale(1.0,1.0)" text-anchor="start" font-size="35.20" font-family="Liberation Sans, sans-serif" fill="#111" stroke="#111" stroke-width="0.35">0.07</text>
<text transform="translate(1049.29,459.10) scale(1.0,1.0)" text-anchor="start" font-size="35.20" font-family="Liberation Sans, sans-serif" fill="#111" stroke="#111" stroke-width="0.35">0.0</text>
<path transform="translate(1098.22,459.10) scale(35.200,35.200)" d="M0.372,0 H0.284 V-0.548 Q0.215,-0.485 0.109,-0.447 V-0.532 Q0.262,-0.600 0.316,-0.705 H0.372 Z" fill="#111" stroke="#111" stroke-width="0.0099"/>
<text transform="translate(1049.29,656.60) scale(1.0,1.0)" text-anchor="start" font-size="35.20" font-family="Liberation Sans, sans-serif" fill="#111" stroke="#111" stroke-width="0.35">0.00</text>
<path d="M1187.10,200.80 V127.00 H1275.10 V172.50" fill="none" stroke="#111" stroke-width="2.1"/>
<g transform="translate(1218.90,107.70) scale(0.976)" fill="#0d0d0d"><path transform="rotate(0) scale(1)" d="M0,-0.2 C-0.3,-2.4 -1.6,-5.0 -1.6,-6.75 C-1.6,-7.8 -0.9,-8.5 0,-8.5 C0.9,-8.5 1.6,-7.8 1.6,-6.75 C1.6,-5.0 0.3,-2.4 0,-0.2 Z"/><path transform="rotate(64) scale(0.965)" d="M0,-0.2 C-0.3,-2.4 -1.6,-5.0 -1.6,-6.75 C-1.6,-7.8 -0.9,-8.5 0,-8.5 C0.9,-8.5 1.6,-7.8 1.6,-6.75 C1.6,-5.0 0.3,-2.4 0,-0.2 Z"/><path transform="rotate(116) scale(0.965)" d="M0,-0.2 C-0.3,-2.4 -1.6,-5.0 -1.6,-6.75 C-1.6,-7.8 -0.9,-8.5 0,-8.5 C0.9,-8.5 1.6,-7.8 1.6,-6.75 C1.6,-5.0 0.3,-2.4 0,-0.2 Z"/><path transform="rotate(180) scale(1)" d="M0,-0.2 C-0.3,-2.4 -1.6,-5.0 -1.6,-6.75 C-1.6,-7.8 -0.9,-8.5 0,-8.5 C0.9,-8.5 1.6,-7.8 1.6,-6.75 C1.6,-5.0 0.3,-2.4 0,-0.2 Z"/><path transform="rotate(244) scale(0.965)" d="M0,-0.2 C-0.3,-2.4 -1.6,-5.0 -1.6,-6.75 C-1.6,-7.8 -0.9,-8.5 0,-8.5 C0.9,-8.5 1.6,-7.8 1.6,-6.75 C1.6,-5.0 0.3,-2.4 0,-0.2 Z"/><path transform="rotate(296) scale(0.965)" d="M0,-0.2 C-0.3,-2.4 -1.6,-5.0 -1.6,-6.75 C-1.6,-7.8 -0.9,-8.5 0,-8.5 C0.9,-8.5 1.6,-7.8 1.6,-6.75 C1.6,-5.0 0.3,-2.4 0,-0.2 Z"/><circle r="0.75"/></g>
<g transform="translate(1239.50,107.70) scale(0.976)" fill="#0d0d0d"><path transform="rotate(0) scale(1)" d="M0,-0.2 C-0.3,-2.4 -1.6,-5.0 -1.6,-6.75 C-1.6,-7.8 -0.9,-8.5 0,-8.5 C0.9,-8.5 1.6,-7.8 1.6,-6.75 C1.6,-5.0 0.3,-2.4 0,-0.2 Z"/><path transform="rotate(64) scale(0.965)" d="M0,-0.2 C-0.3,-2.4 -1.6,-5.0 -1.6,-6.75 C-1.6,-7.8 -0.9,-8.5 0,-8.5 C0.9,-8.5 1.6,-7.8 1.6,-6.75 C1.6,-5.0 0.3,-2.4 0,-0.2 Z"/><path transform="rotate(116) scale(0.965)" d="M0,-0.2 C-0.3,-2.4 -1.6,-5.0 -1.6,-6.75 C-1.6,-7.8 -0.9,-8.5 0,-8.5 C0.9,-8.5 1.6,-7.8 1.6,-6.75 C1.6,-5.0 0.3,-2.4 0,-0.2 Z"/><path transform="rotate(180) scale(1)" d="M0,-0.2 C-0.3,-2.4 -1.6,-5.0 -1.6,-6.75 C-1.6,-7.8 -0.9,-8.5 0,-8.5 C0.9,-8.5 1.6,-7.8 1.6,-6.75 C1.6,-5.0 0.3,-2.4 0,-0.2 Z"/><path transform="rotate(244) scale(0.965)" d="M0,-0.2 C-0.3,-2.4 -1.6,-5.0 -1.6,-6.75 C-1.6,-7.8 -0.9,-8.5 0,-8.5 C0.9,-8.5 1.6,-7.8 1.6,-6.75 C1.6,-5.0 0.3,-2.4 0,-0.2 Z"/><path transform="rotate(296) scale(0.965)" d="M0,-0.2 C-0.3,-2.4 -1.6,-5.0 -1.6,-6.75 C-1.6,-7.8 -0.9,-8.5 0,-8.5 C0.9,-8.5 1.6,-7.8 1.6,-6.75 C1.6,-5.0 0.3,-2.4 0,-0.2 Z"/><circle r="0.75"/></g>
<text transform="translate(1151.77,677.70) scale(1.0,0.97)" text-anchor="start" font-size="30.60" font-family="Liberation Sans, sans-serif" fill="#111" stroke="#111" stroke-width="0.35">CTL</text>
<text transform="translate(1222.77,677.70) scale(1,1.0)" font-size="32.70" font-family="Liberation Serif, serif" fill="#111">β</text>
<text transform="translate(1239.41,677.70) scale(1.0,0.97)" text-anchor="start" font-size="30.70" font-family="Liberation Sans, sans-serif" fill="#111" stroke="#111" stroke-width="0.35">-EUD</text>
<text transform="translate(920.22,50.20) scale(1,1.01)" font-size="66.48" font-family="Liberation Sans, sans-serif" fill="#1c1c1c" stroke="#fff" stroke-width="0.6">B</text>
<text style="font-kerning:normal" transform="translate(1022.50,612.50) rotate(-90) scale(1,0.99)" text-anchor="start" font-size="36.41" font-family="Liberation Sans, sans-serif" fill="#111" stroke="#111" stroke-width="0.35">Mean (Food intake/body weight)</text>
<line x1="1146.50" y1="812.15" x2="1146.50" y2="1391.70" stroke="#4a4a4a" stroke-width="1.3" stroke-linecap="butt"/>
<line x1="1136.20" y1="812.75" x2="1146.50" y2="812.75" stroke="#4a4a4a" stroke-width="1.3" stroke-linecap="butt"/>
<line x1="1136.20" y1="909.20" x2="1146.50" y2="909.20" stroke="#4a4a4a" stroke-width="1.3" stroke-linecap="butt"/>
<line x1="1136.20" y1="1005.70" x2="1146.50" y2="1005.70" stroke="#4a4a4a" stroke-width="1.3" stroke-linecap="butt"/>
<line x1="1136.20" y1="1102.10" x2="1146.50" y2="1102.10" stroke="#4a4a4a" stroke-width="1.3" stroke-linecap="butt"/>
<line x1="1136.20" y1="1198.30" x2="1146.50" y2="1198.30" stroke="#4a4a4a" stroke-width="1.3" stroke-linecap="butt"/>
<line x1="1136.20" y1="1294.90" x2="1146.50" y2="1294.90" stroke="#4a4a4a" stroke-width="1.3" stroke-linecap="butt"/>
<line x1="1136.20" y1="1391.10" x2="1346.50" y2="1391.10" stroke="#4a4a4a" stroke-width="1.3" stroke-linecap="butt"/>
<line x1="1245.80" y1="1382.80" x2="1245.80" y2="1391.10" stroke="#4a4a4a" stroke-width="1.3" stroke-linecap="butt"/>
<line x1="1345.90" y1="1382.80" x2="1345.90" y2="1391.10" stroke="#4a4a4a" stroke-width="1.3" stroke-linecap="butt"/>
<rect x="1158.00" y="1016.40" width="76.80" height="374.70" fill="#fff" stroke="#111" stroke-width="2.6"/>
<rect x="1257.50" y="968.00" width="76.50" height="423.90" fill="#000"/>
<line x1="1196.40" y1="986.70" x2="1196.40" y2="1016.40" stroke="#111" stroke-width="2.5" stroke-linecap="butt"/>
<line x1="1189.70" y1="986.70" x2="1203.10" y2="986.70" stroke="#111" stroke-width="2.5" stroke-linecap="butt"/>
<line x1="1295.90" y1="943.00" x2="1295.90" y2="968.00" stroke="#111" stroke-width="2.5" stroke-linecap="butt"/>
<line x1="1289.20" y1="943.00" x2="1302.60" y2="943.00" stroke="#111" stroke-width="2.5" stroke-linecap="butt"/>
<rect x="1135.70" y="1136.60" width="211.10" height="20.10" fill="#fff"/>
<line x1="1135.70" y1="1136.60" x2="1346.80" y2="1136.60" stroke="#111" stroke-width="2.5" stroke-linecap="butt"/>
<line x1="1135.70" y1="1156.70" x2="1346.80" y2="1156.70" stroke="#111" stroke-width="2.5" stroke-linecap="butt"/>
<text transform="translate(1043.39,823.25) scale(1.0,1.0)" text-anchor="start" font-size="33.30" font-family="Liberation Sans, sans-serif" fill="#111" stroke="#111" stroke-width="0.35">0.</text>
<path transform="translate(1071.16,823.25) scale(33.300,33.300)" d="M0.372,0 H0.284 V-0.548 Q0.215,-0.485 0.109,-0.447 V-0.532 Q0.262,-0.600 0.316,-0.705 H0.372 Z" fill="#111" stroke="#111" stroke-width="0.0105"/>
<text transform="translate(1089.68,823.25) scale(1.0,1.0)" text-anchor="start" font-size="33.30" font-family="Liberation Sans, sans-serif" fill="#111" stroke="#111" stroke-width="0.35">2</text>
<text transform="translate(1043.39,919.70) scale(1.0,1.0)" text-anchor="start" font-size="33.30" font-family="Liberation Sans, sans-serif" fill="#111" stroke="#111" stroke-width="0.35">0.</text>
<path transform="translate(1071.16,919.70) scale(33.300,33.300)" d="M0.372,0 H0.284 V-0.548 Q0.215,-0.485 0.109,-0.447 V-0.532 Q0.262,-0.600 0.316,-0.705 H0.372 Z" fill="#111" stroke="#111" stroke-width="0.0105"/>
<path transform="translate(1089.68,919.70) scale(33.300,33.300)" d="M0.372,0 H0.284 V-0.548 Q0.215,-0.485 0.109,-0.447 V-0.532 Q0.262,-0.600 0.316,-0.705 H0.372 Z" fill="#111" stroke="#111" stroke-width="0.0105"/>
<text transform="translate(1043.39,1016.20) scale(1.0,1.0)" text-anchor="start" font-size="33.30" font-family="Liberation Sans, sans-serif" fill="#111" stroke="#111" stroke-width="0.35">0.</text>
<path transform="translate(1071.16,1016.20) scale(33.300,33.300)" d="M0.372,0 H0.284 V-0.548 Q0.215,-0.485 0.109,-0.447 V-0.532 Q0.262,-0.600 0.316,-0.705 H0.372 Z" fill="#111" stroke="#111" stroke-width="0.0105"/>
<text transform="translate(1089.68,1016.20) scale(1.0,1.0)" text-anchor="start" font-size="33.30" font-family="Liberation Sans, sans-serif" fill="#111" stroke="#111" stroke-width="0.35">0</text>
<text transform="translate(1043.39,1112.60) scale(1.0,1.0)" text-anchor="start" font-size="33.30" font-family="Liberation Sans, sans-serif" fill="#111" stroke="#111" stroke-width="0.35">0.09</text>
<text transform="translate(1043.39,1208.80) scale(1.0,1.0)" text-anchor="start" font-size="33.30" font-family="Liberation Sans, sans-serif" fill="#111" stroke="#111" stroke-width="0.35">0.02</text>
<text transform="translate(1043.39,1305.40) scale(1.0,1.0)" text-anchor="start" font-size="33.30" font-family="Liberation Sans, sans-serif" fill="#111" stroke="#111" stroke-width="0.35">0.0</text>
<path transform="translate(1089.68,1305.40) scale(33.300,33.300)" d="M0.372,0 H0.284 V-0.548 Q0.215,-0.485 0.109,-0.447 V-0.532 Q0.262,-0.600 0.316,-0.705 H0.372 Z" fill="#111" stroke="#111" stroke-width="0.0105"/>
<text transform="translate(1043.39,1401.80) scale(1.0,1.0)" text-anchor="start" font-size="33.30" font-family="Liberation Sans, sans-serif" fill="#111" stroke="#111" stroke-width="0.35">0.00</text>
<path d="M1198.90,956.70 V882.70 H1298.90 V928.20" fill="none" stroke="#111" stroke-width="2.1"/>
<text transform="translate(1230.66,863.00) scale(0.925,1.0)" text-anchor="start" font-size="31.00" font-family="Liberation Sans, sans-serif" fill="#111" stroke="#111" stroke-width="0.35">n.s.</text>
<text transform="translate(1159.67,1426.20) scale(1.0,0.97)" text-anchor="start" font-size="30.60" font-family="Liberation Sans, sans-serif" fill="#111" stroke="#111" stroke-width="0.35">CTL</text>
<text transform="translate(1231.07,1426.20) scale(1,1.0)" font-size="32.70" font-family="Liberation Serif, serif" fill="#111">β</text>
<text transform="translate(1247.71,1426.20) scale(1.0,0.97)" text-anchor="start" font-size="30.70" font-family="Liberation Sans, sans-serif" fill="#111" stroke="#111" stroke-width="0.35">-EUD</text>
<text transform="translate(947.94,781.60) scale(1,1.01)" font-size="66.16" font-family="Liberation Sans, sans-serif" fill="#1c1c1c" stroke="#fff" stroke-width="0.6">D</text>
<text style="font-kerning:normal" transform="translate(1022.30,1358.92) rotate(-90) scale(1,0.99)" text-anchor="start" font-size="36.66" font-family="Liberation Sans, sans-serif" fill="#111" stroke="#111" stroke-width="0.35">Mean (Water intake/body weight)</text>
<line x1="152.00" y1="1544.20" x2="152.00" y2="2030.60" stroke="#7c7c7c" stroke-width="1.45" stroke-linecap="butt"/>
<line x1="143.10" y1="1544.80" x2="152.00" y2="1544.80" stroke="#7c7c7c" stroke-width="1.45" stroke-linecap="butt"/>
<line x1="143.10" y1="1614.10" x2="152.00" y2="1614.10" stroke="#7c7c7c" stroke-width="1.45" stroke-linecap="butt"/>
<line x1="143.10" y1="1683.40" x2="152.00" y2="1683.40" stroke="#7c7c7c" stroke-width="1.45" stroke-linecap="butt"/>
<line x1="143.10" y1="1752.70" x2="152.00" y2="1752.70" stroke="#7c7c7c" stroke-width="1.45" stroke-linecap="butt"/>
<line x1="143.10" y1="1822.00" x2="152.00" y2="1822.00" stroke="#7c7c7c" stroke-width="1.45" stroke-linecap="butt"/>
<line x1="143.10" y1="1891.30" x2="152.00" y2="1891.30" stroke="#7c7c7c" stroke-width="1.45" stroke-linecap="butt"/>
<line x1="143.10" y1="1960.60" x2="152.00" y2="1960.60" stroke="#7c7c7c" stroke-width="1.45" stroke-linecap="butt"/>
<line x1="143.10" y1="2030.00" x2="361.30" y2="2030.00" stroke="#7c7c7c" stroke-width="1.45" stroke-linecap="butt"/>
<line x1="256.30" y1="2021.70" x2="256.30" y2="2030.00" stroke="#7c7c7c" stroke-width="1.45" stroke-linecap="butt"/>
<line x1="360.70" y1="2021.70" x2="360.70" y2="2030.00" stroke="#7c7c7c" stroke-width="1.45" stroke-linecap="butt"/>
<rect x="164.00" y="1860.80" width="80.40" height="169.20" fill="#fff" stroke="#111" stroke-width="2.7"/>
<rect x="268.30" y="1681.30" width="80.30" height="349.50" fill="#000"/>
<line x1="204.20" y1="1827.40" x2="204.20" y2="1860.80" stroke="#111" stroke-width="2.0" stroke-linecap="butt"/>
<line x1="198.10" y1="1827.40" x2="210.30" y2="1827.40" stroke="#111" stroke-width="1.5" stroke-linecap="butt"/>
<line x1="308.10" y1="1628.80" x2="308.10" y2="1681.30" stroke="#111" stroke-width="2.0" stroke-linecap="butt"/>
<line x1="302.00" y1="1628.80" x2="314.20" y2="1628.80" stroke="#111" stroke-width="1.5" stroke-linecap="butt"/>
<text transform="translate(87.98,1553.70) scale(1.0,1.0)" text-anchor="start" font-size="28.70" font-family="Liberation Sans, sans-serif" fill="#111" stroke="#111" stroke-width="0.35">35</text>
<text transform="translate(87.98,1623.00) scale(1.0,1.0)" text-anchor="start" font-size="28.70" font-family="Liberation Sans, sans-serif" fill="#111" stroke="#111" stroke-width="0.35">30</text>
<text transform="translate(87.98,1692.30) scale(1.0,1.0)" text-anchor="start" font-size="28.70" font-family="Liberation Sans, sans-serif" fill="#111" stroke="#111" stroke-width="0.35">25</text>
<text transform="translate(87.98,1761.60) scale(1.0,1.0)" text-anchor="start" font-size="28.70" font-family="Liberation Sans, sans-serif" fill="#111" stroke="#111" stroke-width="0.35">20</text>
<path transform="translate(87.98,1830.90) scale(28.700,28.700)" d="M0.372,0 H0.284 V-0.548 Q0.215,-0.485 0.109,-0.447 V-0.532 Q0.262,-0.600 0.316,-0.705 H0.372 Z" fill="#111" stroke="#111" stroke-width="0.0122"/>
<text transform="translate(103.94,1830.90) scale(1.0,1.0)" text-anchor="start" font-size="28.70" font-family="Liberation Sans, sans-serif" fill="#111" stroke="#111" stroke-width="0.35">5</text>
<path transform="translate(87.98,1900.20) scale(28.700,28.700)" d="M0.372,0 H0.284 V-0.548 Q0.215,-0.485 0.109,-0.447 V-0.532 Q0.262,-0.600 0.316,-0.705 H0.372 Z" fill="#111" stroke="#111" stroke-width="0.0122"/>
<text transform="translate(103.94,1900.20) scale(1.0,1.0)" text-anchor="start" font-size="28.70" font-family="Liberation Sans, sans-serif" fill="#111" stroke="#111" stroke-width="0.35">0</text>
<text transform="translate(103.94,1969.50) scale(1.0,1.0)" text-anchor="start" font-size="28.70" font-family="Liberation Sans, sans-serif" fill="#111" stroke="#111" stroke-width="0.35">5</text>
<text transform="translate(103.94,2038.90) scale(1.0,1.0)" text-anchor="start" font-size="28.70" font-family="Liberation Sans, sans-serif" fill="#111" stroke="#111" stroke-width="0.35">0</text>
<path d="M204.40,1811.50 V1576.30 H308.10 V1609.90" fill="none" stroke="#111" stroke-width="2.0"/>
<g transform="translate(246.40,1557.10) scale(0.965)" fill="#0d0d0d"><path transform="rotate(0) scale(1)" d="M0,-0.2 C-0.3,-2.4 -1.6,-5.0 -1.6,-6.75 C-1.6,-7.8 -0.9,-8.5 0,-8.5 C0.9,-8.5 1.6,-7.8 1.6,-6.75 C1.6,-5.0 0.3,-2.4 0,-0.2 Z"/><path transform="rotate(64) scale(0.965)" d="M0,-0.2 C-0.3,-2.4 -1.6,-5.0 -1.6,-6.75 C-1.6,-7.8 -0.9,-8.5 0,-8.5 C0.9,-8.5 1.6,-7.8 1.6,-6.75 C1.6,-5.0 0.3,-2.4 0,-0.2 Z"/><path transform="rotate(116) scale(0.965)" d="M0,-0.2 C-0.3,-2.4 -1.6,-5.0 -1.6,-6.75 C-1.6,-7.8 -0.9,-8.5 0,-8.5 C0.9,-8.5 1.6,-7.8 1.6,-6.75 C1.6,-5.0 0.3,-2.4 0,-0.2 Z"/><path transform="rotate(180) scale(1)" d="M0,-0.2 C-0.3,-2.4 -1.6,-5.0 -1.6,-6.75 C-1.6,-7.8 -0.9,-8.5 0,-8.5 C0.9,-8.5 1.6,-7.8 1.6,-6.75 C1.6,-5.0 0.3,-2.4 0,-0.2 Z"/><path transform="rotate(244) scale(0.965)" d="M0,-0.2 C-0.3,-2.4 -1.6,-5.0 -1.6,-6.75 C-1.6,-7.8 -0.9,-8.5 0,-8.5 C0.9,-8.5 1.6,-7.8 1.6,-6.75 C1.6,-5.0 0.3,-2.4 0,-0.2 Z"/><path transform="rotate(296) scale(0.965)" d="M0,-0.2 C-0.3,-2.4 -1.6,-5.0 -1.6,-6.75 C-1.6,-7.8 -0.9,-8.5 0,-8.5 C0.9,-8.5 1.6,-7.8 1.6,-6.75 C1.6,-5.0 0.3,-2.4 0,-0.2 Z"/><circle r="0.75"/></g>
<g transform="translate(267.40,1557.10) scale(0.965)" fill="#0d0d0d"><path transform="rotate(0) scale(1)" d="M0,-0.2 C-0.3,-2.4 -1.6,-5.0 -1.6,-6.75 C-1.6,-7.8 -0.9,-8.5 0,-8.5 C0.9,-8.5 1.6,-7.8 1.6,-6.75 C1.6,-5.0 0.3,-2.4 0,-0.2 Z"/><path transform="rotate(64) scale(0.965)" d="M0,-0.2 C-0.3,-2.4 -1.6,-5.0 -1.6,-6.75 C-1.6,-7.8 -0.9,-8.5 0,-8.5 C0.9,-8.5 1.6,-7.8 1.6,-6.75 C1.6,-5.0 0.3,-2.4 0,-0.2 Z"/><path transform="rotate(116) scale(0.965)" d="M0,-0.2 C-0.3,-2.4 -1.6,-5.0 -1.6,-6.75 C-1.6,-7.8 -0.9,-8.5 0,-8.5 C0.9,-8.5 1.6,-7.8 1.6,-6.75 C1.6,-5.0 0.3,-2.4 0,-0.2 Z"/><path transform="rotate(180) scale(1)" d="M0,-0.2 C-0.3,-2.4 -1.6,-5.0 -1.6,-6.75 C-1.6,-7.8 -0.9,-8.5 0,-8.5 C0.9,-8.5 1.6,-7.8 1.6,-6.75 C1.6,-5.0 0.3,-2.4 0,-0.2 Z"/><path transform="rotate(244) scale(0.965)" d="M0,-0.2 C-0.3,-2.4 -1.6,-5.0 -1.6,-6.75 C-1.6,-7.8 -0.9,-8.5 0,-8.5 C0.9,-8.5 1.6,-7.8 1.6,-6.75 C1.6,-5.0 0.3,-2.4 0,-0.2 Z"/><path transform="rotate(296) scale(0.965)" d="M0,-0.2 C-0.3,-2.4 -1.6,-5.0 -1.6,-6.75 C-1.6,-7.8 -0.9,-8.5 0,-8.5 C0.9,-8.5 1.6,-7.8 1.6,-6.75 C1.6,-5.0 0.3,-2.4 0,-0.2 Z"/><circle r="0.75"/></g>
<text transform="translate(176.07,2070.30) scale(1.0,0.97)" text-anchor="start" font-size="30.60" font-family="Liberation Sans, sans-serif" fill="#111" stroke="#111" stroke-width="0.35">CTL</text>
<text transform="translate(264.97,2070.30) scale(1,1.0)" font-size="32.70" font-family="Liberation Serif, serif" fill="#111">β</text>
<text transform="translate(281.61,2070.30) scale(1.0,0.97)" text-anchor="start" font-size="30.70" font-family="Liberation Sans, sans-serif" fill="#111" stroke="#111" stroke-width="0.35">-EUD</text>
<text transform="translate(8.17,1544.30) scale(1,1.01)" font-size="63.41" font-family="Liberation Sans, sans-serif" fill="#1c1c1c" stroke="#fff" stroke-width="0.6">E</text>
<text style="font-kerning:normal" transform="translate(51.20,1986.19) rotate(-90) scale(1,0.99)" text-anchor="start" font-size="36.62" font-family="Liberation Sans, sans-serif" fill="#111" stroke="#111" stroke-width="0.35">Active ghlerin (fmol/ml)</text>
<line x1="585.70" y1="1543.70" x2="585.70" y2="2029.80" stroke="#7c7c7c" stroke-width="1.45" stroke-linecap="butt"/>
<line x1="576.80" y1="1544.30" x2="585.70" y2="1544.30" stroke="#7c7c7c" stroke-width="1.45" stroke-linecap="butt"/>
<line x1="576.80" y1="1598.18" x2="585.70" y2="1598.18" stroke="#7c7c7c" stroke-width="1.45" stroke-linecap="butt"/>
<line x1="576.80" y1="1652.06" x2="585.70" y2="1652.06" stroke="#7c7c7c" stroke-width="1.45" stroke-linecap="butt"/>
<line x1="576.80" y1="1705.94" x2="585.70" y2="1705.94" stroke="#7c7c7c" stroke-width="1.45" stroke-linecap="butt"/>
<line x1="576.80" y1="1759.82" x2="585.70" y2="1759.82" stroke="#7c7c7c" stroke-width="1.45" stroke-linecap="butt"/>
<line x1="576.80" y1="1813.70" x2="585.70" y2="1813.70" stroke="#7c7c7c" stroke-width="1.45" stroke-linecap="butt"/>
<line x1="576.80" y1="1867.58" x2="585.70" y2="1867.58" stroke="#7c7c7c" stroke-width="1.45" stroke-linecap="butt"/>
<line x1="576.80" y1="1921.46" x2="585.70" y2="1921.46" stroke="#7c7c7c" stroke-width="1.45" stroke-linecap="butt"/>
<line x1="576.80" y1="1975.34" x2="585.70" y2="1975.34" stroke="#7c7c7c" stroke-width="1.45" stroke-linecap="butt"/>
<line x1="576.80" y1="2029.20" x2="796.30" y2="2029.20" stroke="#7c7c7c" stroke-width="1.45" stroke-linecap="butt"/>
<line x1="690.10" y1="2020.90" x2="690.10" y2="2029.20" stroke="#7c7c7c" stroke-width="1.45" stroke-linecap="butt"/>
<line x1="795.70" y1="2020.90" x2="795.70" y2="2029.20" stroke="#7c7c7c" stroke-width="1.45" stroke-linecap="butt"/>
<rect x="597.50" y="1687.90" width="81.30" height="341.30" fill="#fff" stroke="#111" stroke-width="2.6"/>
<rect x="702.90" y="1635.30" width="80.10" height="394.70" fill="#000"/>
<line x1="637.70" y1="1666.70" x2="637.70" y2="1687.90" stroke="#111" stroke-width="1.9" stroke-linecap="butt"/>
<line x1="631.95" y1="1666.70" x2="643.45" y2="1666.70" stroke="#111" stroke-width="1.6" stroke-linecap="butt"/>
<line x1="742.60" y1="1613.80" x2="742.60" y2="1635.30" stroke="#111" stroke-width="1.9" stroke-linecap="butt"/>
<line x1="736.85" y1="1613.80" x2="748.35" y2="1613.80" stroke="#111" stroke-width="1.6" stroke-linecap="butt"/>
<text transform="translate(506.18,1552.90) scale(1.0,1.0)" text-anchor="start" font-size="28.30" font-family="Liberation Sans, sans-serif" fill="#111" stroke="#111" stroke-width="0.35">900</text>
<text transform="translate(506.18,1606.78) scale(1.0,1.0)" text-anchor="start" font-size="28.30" font-family="Liberation Sans, sans-serif" fill="#111" stroke="#111" stroke-width="0.35">800</text>
<text transform="translate(506.18,1660.66) scale(1.0,1.0)" text-anchor="start" font-size="28.30" font-family="Liberation Sans, sans-serif" fill="#111" stroke="#111" stroke-width="0.35">700</text>
<text transform="translate(506.18,1714.54) scale(1.0,1.0)" text-anchor="start" font-size="28.30" font-family="Liberation Sans, sans-serif" fill="#111" stroke="#111" stroke-width="0.35">600</text>
<text transform="translate(506.18,1768.42) scale(1.0,1.0)" text-anchor="start" font-size="28.30" font-family="Liberation Sans, sans-serif" fill="#111" stroke="#111" stroke-width="0.35">500</text>
<text transform="translate(506.18,1822.30) scale(1.0,1.0)" text-anchor="start" font-size="28.30" font-family="Liberation Sans, sans-serif" fill="#111" stroke="#111" stroke-width="0.35">400</text>
<text transform="translate(506.18,1876.18) scale(1.0,1.0)" text-anchor="start" font-size="28.30" font-family="Liberation Sans, sans-serif" fill="#111" stroke="#111" stroke-width="0.35">300</text>
<text transform="translate(506.18,1930.06) scale(1.0,1.0)" text-anchor="start" font-size="28.30" font-family="Liberation Sans, sans-serif" fill="#111" stroke="#111" stroke-width="0.35">200</text>
<path transform="translate(506.18,1983.94) scale(28.300,28.300)" d="M0.372,0 H0.284 V-0.548 Q0.215,-0.485 0.109,-0.447 V-0.532 Q0.262,-0.600 0.316,-0.705 H0.372 Z" fill="#111" stroke="#111" stroke-width="0.0124"/>
<text transform="translate(521.92,1983.94) scale(1.0,1.0)" text-anchor="start" font-size="28.30" font-family="Liberation Sans, sans-serif" fill="#111" stroke="#111" stroke-width="0.35">00</text>
<text transform="translate(537.66,2037.80) scale(1.0,1.0)" text-anchor="start" font-size="28.30" font-family="Liberation Sans, sans-serif" fill="#111" stroke="#111" stroke-width="0.35">0</text>
<path d="M637.70,1632.60 V1570.40 H741.10 V1603.00" fill="none" stroke="#111" stroke-width="2.0"/>
<text transform="translate(673.06,1552.40) scale(0.925,1.0)" text-anchor="start" font-size="31.00" font-family="Liberation Sans, sans-serif" fill="#111" stroke="#111" stroke-width="0.35">n.s.</text>
<text transform="translate(617.67,2069.80) scale(1.0,0.97)" text-anchor="start" font-size="30.60" font-family="Liberation Sans, sans-serif" fill="#111" stroke="#111" stroke-width="0.35">CTL</text>
<text transform="translate(698.87,2069.80) scale(1,1.0)" font-size="32.70" font-family="Liberation Serif, serif" fill="#111">β</text>
<text transform="translate(715.51,2069.80) scale(1.0,0.97)" text-anchor="start" font-size="30.70" font-family="Liberation Sans, sans-serif" fill="#111" stroke="#111" stroke-width="0.35">-EUD</text>
<text transform="translate(426.45,1544.30) scale(1,1.01)" font-size="63.59" font-family="Liberation Sans, sans-serif" fill="#1c1c1c" stroke="#fff" stroke-width="0.6">F</text>
<text style="font-kerning:normal" transform="translate(486.60,1992.42) rotate(-90) scale(1,0.99)" text-anchor="start" font-size="36.61" font-family="Liberation Sans, sans-serif" fill="#111" stroke="#111" stroke-width="0.35">Desacyl ghlerin (fmol/ml)</text>
</svg>
</body></html>
